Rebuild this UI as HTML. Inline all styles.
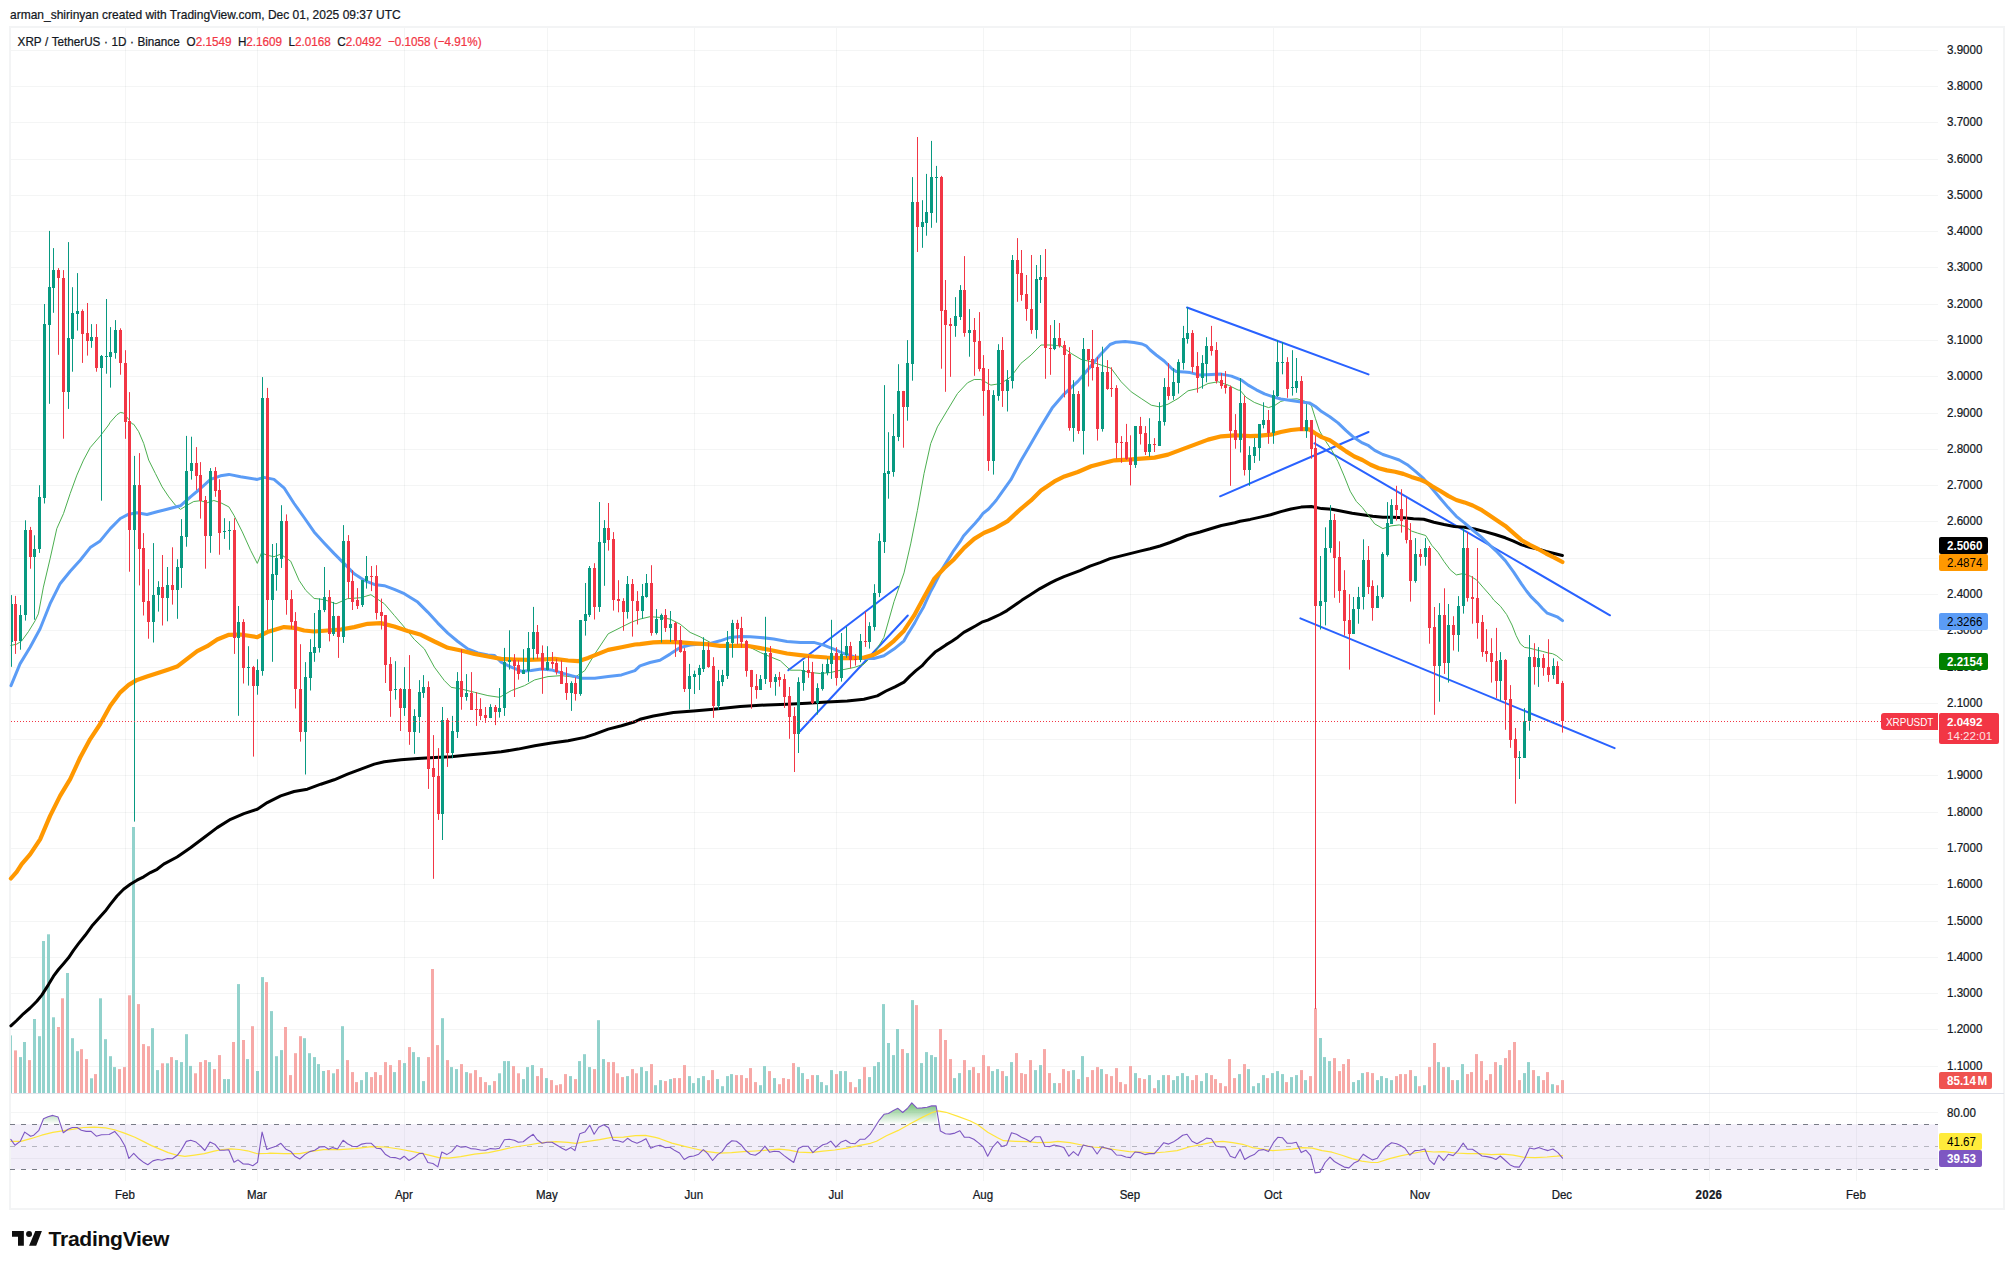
<!DOCTYPE html>
<html><head><meta charset="utf-8"><title>XRPUSDT chart</title>
<style>
html,body{margin:0;padding:0;background:#fff;}
body{width:2014px;height:1269px;position:relative;overflow:hidden;font-family:"Liberation Sans",sans-serif;color:#131722;}
#title,#legend,.pl,.tl{-webkit-text-stroke:0.22px currentColor;transform-origin:0 77%;}
#title{transform:scaleY(1.08);}#legend{transform:scaleY(1.1);}.pl,.tl{transform:scaleY(1.06);}.tag>span.t{display:inline-block;transform:scaleY(1.06);transform-origin:0 77%;}
#frame{position:absolute;left:9px;top:26px;width:1992px;height:1180px;border:2px solid #f3f4f5;box-sizing:content-box;}
#title{position:absolute;left:10px;top:7px;font-size:12.0px;line-height:16px;white-space:nowrap;color:#131722;}
#legend{position:absolute;left:17.6px;top:33.8px;font-size:11.7px;line-height:16px;white-space:pre;color:#131722;}
#legend .r{color:#f23645;}
.pl{position:absolute;left:1947px;width:60px;font-size:11.6px;line-height:16px;height:16px;color:#131722;white-space:nowrap;}
.tl{position:absolute;top:1186.8px;width:60px;text-align:center;font-size:11.5px;line-height:16px;color:#131722;}
.tl.b{font-weight:bold;letter-spacing:0.3px;}
.tag{position:absolute;font-size:11.6px;box-sizing:border-box;padding-left:8px;border-radius:2px;white-space:nowrap;overflow:hidden;}
#logotext{position:absolute;left:48.6px;top:1225.1px;font-size:21.1px;line-height:28px;font-weight:bold;color:#0f0f0f;letter-spacing:-0.3px;white-space:nowrap;}
</style></head><body>
<div id="title">arman_shirinyan created with TradingView.com, Dec 01, 2025 09:37 UTC</div>
<div id="frame"></div>
<svg width="2014" height="1269" viewBox="0 0 2014 1269" style="position:absolute;left:0;top:0" shape-rendering="auto"><defs><linearGradient id="ob" x1="0" y1="0" x2="0" y2="1" gradientUnits="userSpaceOnUse"><stop offset="0" stop-color="#4caf50"/><stop offset="0" stop-color="#4caf50" stop-opacity="1"/></linearGradient><linearGradient id="obg" gradientUnits="userSpaceOnUse" x1="0" y1="1100" x2="0" y2="1124.3"><stop offset="0" stop-color="#4caf50" stop-opacity="0.9"/><stop offset="1" stop-color="#4caf50" stop-opacity="0"/></linearGradient></defs><line x1="11" y1="50.5" x2="1938" y2="50.5" stroke="#2e4848" stroke-opacity="0.055" stroke-width="1"/>
<line x1="11" y1="86.5" x2="1938" y2="86.5" stroke="#2e4848" stroke-opacity="0.055" stroke-width="1"/>
<line x1="11" y1="122.5" x2="1938" y2="122.5" stroke="#2e4848" stroke-opacity="0.055" stroke-width="1"/>
<line x1="11" y1="159.5" x2="1938" y2="159.5" stroke="#2e4848" stroke-opacity="0.055" stroke-width="1"/>
<line x1="11" y1="195.5" x2="1938" y2="195.5" stroke="#2e4848" stroke-opacity="0.055" stroke-width="1"/>
<line x1="11" y1="231.5" x2="1938" y2="231.5" stroke="#2e4848" stroke-opacity="0.055" stroke-width="1"/>
<line x1="11" y1="267.5" x2="1938" y2="267.5" stroke="#2e4848" stroke-opacity="0.055" stroke-width="1"/>
<line x1="11" y1="304.5" x2="1938" y2="304.5" stroke="#2e4848" stroke-opacity="0.055" stroke-width="1"/>
<line x1="11" y1="340.5" x2="1938" y2="340.5" stroke="#2e4848" stroke-opacity="0.055" stroke-width="1"/>
<line x1="11" y1="376.5" x2="1938" y2="376.5" stroke="#2e4848" stroke-opacity="0.055" stroke-width="1"/>
<line x1="11" y1="413.5" x2="1938" y2="413.5" stroke="#2e4848" stroke-opacity="0.055" stroke-width="1"/>
<line x1="11" y1="449.5" x2="1938" y2="449.5" stroke="#2e4848" stroke-opacity="0.055" stroke-width="1"/>
<line x1="11" y1="485.5" x2="1938" y2="485.5" stroke="#2e4848" stroke-opacity="0.055" stroke-width="1"/>
<line x1="11" y1="521.5" x2="1938" y2="521.5" stroke="#2e4848" stroke-opacity="0.055" stroke-width="1"/>
<line x1="11" y1="558.5" x2="1938" y2="558.5" stroke="#2e4848" stroke-opacity="0.055" stroke-width="1"/>
<line x1="11" y1="594.5" x2="1938" y2="594.5" stroke="#2e4848" stroke-opacity="0.055" stroke-width="1"/>
<line x1="11" y1="630.5" x2="1938" y2="630.5" stroke="#2e4848" stroke-opacity="0.055" stroke-width="1"/>
<line x1="11" y1="667.5" x2="1938" y2="667.5" stroke="#2e4848" stroke-opacity="0.055" stroke-width="1"/>
<line x1="11" y1="703.5" x2="1938" y2="703.5" stroke="#2e4848" stroke-opacity="0.055" stroke-width="1"/>
<line x1="11" y1="739.5" x2="1938" y2="739.5" stroke="#2e4848" stroke-opacity="0.055" stroke-width="1"/>
<line x1="11" y1="775.5" x2="1938" y2="775.5" stroke="#2e4848" stroke-opacity="0.055" stroke-width="1"/>
<line x1="11" y1="812.5" x2="1938" y2="812.5" stroke="#2e4848" stroke-opacity="0.055" stroke-width="1"/>
<line x1="11" y1="848.5" x2="1938" y2="848.5" stroke="#2e4848" stroke-opacity="0.055" stroke-width="1"/>
<line x1="11" y1="884.5" x2="1938" y2="884.5" stroke="#2e4848" stroke-opacity="0.055" stroke-width="1"/>
<line x1="11" y1="921.5" x2="1938" y2="921.5" stroke="#2e4848" stroke-opacity="0.055" stroke-width="1"/>
<line x1="11" y1="957.5" x2="1938" y2="957.5" stroke="#2e4848" stroke-opacity="0.055" stroke-width="1"/>
<line x1="11" y1="993.5" x2="1938" y2="993.5" stroke="#2e4848" stroke-opacity="0.055" stroke-width="1"/>
<line x1="11" y1="1029.5" x2="1938" y2="1029.5" stroke="#2e4848" stroke-opacity="0.055" stroke-width="1"/>
<line x1="11" y1="1066.5" x2="1938" y2="1066.5" stroke="#2e4848" stroke-opacity="0.055" stroke-width="1"/>
<line x1="125.5" y1="28" x2="125.5" y2="1181" stroke="#2e4848" stroke-opacity="0.055" stroke-width="1"/>
<line x1="257.5" y1="28" x2="257.5" y2="1181" stroke="#2e4848" stroke-opacity="0.055" stroke-width="1"/>
<line x1="404.5" y1="28" x2="404.5" y2="1181" stroke="#2e4848" stroke-opacity="0.055" stroke-width="1"/>
<line x1="547.5" y1="28" x2="547.5" y2="1181" stroke="#2e4848" stroke-opacity="0.055" stroke-width="1"/>
<line x1="694.5" y1="28" x2="694.5" y2="1181" stroke="#2e4848" stroke-opacity="0.055" stroke-width="1"/>
<line x1="836.5" y1="28" x2="836.5" y2="1181" stroke="#2e4848" stroke-opacity="0.055" stroke-width="1"/>
<line x1="983.5" y1="28" x2="983.5" y2="1181" stroke="#2e4848" stroke-opacity="0.055" stroke-width="1"/>
<line x1="1130.5" y1="28" x2="1130.5" y2="1181" stroke="#2e4848" stroke-opacity="0.055" stroke-width="1"/>
<line x1="1273.5" y1="28" x2="1273.5" y2="1181" stroke="#2e4848" stroke-opacity="0.055" stroke-width="1"/>
<line x1="1420.5" y1="28" x2="1420.5" y2="1181" stroke="#2e4848" stroke-opacity="0.055" stroke-width="1"/>
<line x1="1562.5" y1="28" x2="1562.5" y2="1181" stroke="#2e4848" stroke-opacity="0.055" stroke-width="1"/>
<line x1="1709.5" y1="28" x2="1709.5" y2="1181" stroke="#2e4848" stroke-opacity="0.055" stroke-width="1"/>
<line x1="1856.5" y1="28" x2="1856.5" y2="1181" stroke="#2e4848" stroke-opacity="0.055" stroke-width="1"/>
<line x1="11" y1="1112.5" x2="1938" y2="1112.5" stroke="#2e4848" stroke-opacity="0.055" stroke-width="1"/>
<line x1="11" y1="1158.5" x2="1938" y2="1158.5" stroke="#2e4848" stroke-opacity="0.055" stroke-width="1"/>
<rect x="11" y="1035.4" width="1" height="57.6" fill="#92d2cc"/>
<rect x="14" y="1050.4" width="3" height="42.6" fill="#f7a9a7"/>
<rect x="19" y="1057.1" width="3" height="35.9" fill="#92d2cc"/>
<rect x="23" y="1042.0" width="3" height="51.0" fill="#92d2cc"/>
<rect x="28" y="1060.1" width="3" height="32.9" fill="#f7a9a7"/>
<rect x="33" y="1019.0" width="3" height="74.0" fill="#92d2cc"/>
<rect x="38" y="1036.2" width="3" height="56.8" fill="#92d2cc"/>
<rect x="42" y="941.0" width="3" height="152.0" fill="#92d2cc"/>
<rect x="47" y="934.3" width="3" height="158.7" fill="#92d2cc"/>
<rect x="52" y="1017.3" width="3" height="75.7" fill="#92d2cc"/>
<rect x="57" y="1027.0" width="3" height="66.0" fill="#f7a9a7"/>
<rect x="61" y="998.3" width="3" height="94.7" fill="#f7a9a7"/>
<rect x="66" y="973.0" width="3" height="120.0" fill="#92d2cc"/>
<rect x="71" y="1038.2" width="3" height="54.8" fill="#92d2cc"/>
<rect x="76" y="1051.2" width="3" height="41.8" fill="#92d2cc"/>
<rect x="80" y="1049.2" width="3" height="43.8" fill="#f7a9a7"/>
<rect x="85" y="1059.1" width="3" height="33.9" fill="#f7a9a7"/>
<rect x="90" y="1078.3" width="3" height="14.7" fill="#92d2cc"/>
<rect x="94" y="1074.1" width="3" height="18.9" fill="#f7a9a7"/>
<rect x="99" y="998.3" width="3" height="94.7" fill="#92d2cc"/>
<rect x="104" y="1039.2" width="3" height="53.8" fill="#92d2cc"/>
<rect x="109" y="1056.2" width="3" height="36.8" fill="#92d2cc"/>
<rect x="113" y="1067.1" width="3" height="25.9" fill="#92d2cc"/>
<rect x="118" y="1069.1" width="3" height="23.9" fill="#f7a9a7"/>
<rect x="123" y="1067.1" width="3" height="25.9" fill="#f7a9a7"/>
<rect x="128" y="995.3" width="3" height="97.7" fill="#f7a9a7"/>
<rect x="132" y="827.0" width="3" height="266.0" fill="#92d2cc"/>
<rect x="137" y="1004.1" width="3" height="88.9" fill="#f7a9a7"/>
<rect x="142" y="1044.1" width="3" height="48.9" fill="#f7a9a7"/>
<rect x="147" y="1046.2" width="3" height="46.8" fill="#f7a9a7"/>
<rect x="151" y="1028.2" width="3" height="64.8" fill="#92d2cc"/>
<rect x="156" y="1070.1" width="3" height="22.9" fill="#92d2cc"/>
<rect x="161" y="1063.3" width="3" height="29.7" fill="#f7a9a7"/>
<rect x="166" y="1063.3" width="3" height="29.7" fill="#92d2cc"/>
<rect x="170" y="1057.1" width="3" height="35.9" fill="#f7a9a7"/>
<rect x="175" y="1060.1" width="3" height="32.9" fill="#92d2cc"/>
<rect x="180" y="1062.1" width="3" height="30.9" fill="#92d2cc"/>
<rect x="185" y="1034.2" width="3" height="58.8" fill="#92d2cc"/>
<rect x="189" y="1065.9" width="3" height="27.1" fill="#92d2cc"/>
<rect x="194" y="1073.3" width="3" height="19.7" fill="#f7a9a7"/>
<rect x="199" y="1062.1" width="3" height="30.9" fill="#f7a9a7"/>
<rect x="204" y="1060.1" width="3" height="32.9" fill="#f7a9a7"/>
<rect x="208" y="1062.1" width="3" height="30.9" fill="#92d2cc"/>
<rect x="213" y="1069.1" width="3" height="23.9" fill="#f7a9a7"/>
<rect x="218" y="1055.1" width="3" height="37.9" fill="#f7a9a7"/>
<rect x="223" y="1079.1" width="3" height="13.9" fill="#92d2cc"/>
<rect x="227" y="1079.1" width="3" height="13.9" fill="#92d2cc"/>
<rect x="232" y="1042.0" width="3" height="51.0" fill="#f7a9a7"/>
<rect x="237" y="984.1" width="3" height="108.9" fill="#92d2cc"/>
<rect x="242" y="1040.0" width="3" height="53.0" fill="#f7a9a7"/>
<rect x="246" y="1059.1" width="3" height="33.9" fill="#92d2cc"/>
<rect x="251" y="1026.2" width="3" height="66.8" fill="#f7a9a7"/>
<rect x="256" y="1071.0" width="3" height="22.0" fill="#92d2cc"/>
<rect x="261" y="977.1" width="3" height="115.9" fill="#92d2cc"/>
<rect x="265" y="982.1" width="3" height="110.9" fill="#f7a9a7"/>
<rect x="270" y="1011.1" width="3" height="81.9" fill="#92d2cc"/>
<rect x="275" y="1056.2" width="3" height="36.8" fill="#92d2cc"/>
<rect x="280" y="1050.1" width="3" height="42.9" fill="#92d2cc"/>
<rect x="284" y="1027.0" width="3" height="66.0" fill="#f7a9a7"/>
<rect x="289" y="1075.1" width="3" height="17.9" fill="#f7a9a7"/>
<rect x="294" y="1053.2" width="3" height="39.8" fill="#f7a9a7"/>
<rect x="299" y="1036.2" width="3" height="56.8" fill="#f7a9a7"/>
<rect x="303" y="1038.2" width="3" height="54.8" fill="#92d2cc"/>
<rect x="308" y="1053.2" width="3" height="39.8" fill="#92d2cc"/>
<rect x="313" y="1057.1" width="3" height="35.9" fill="#92d2cc"/>
<rect x="317" y="1064.1" width="3" height="28.9" fill="#92d2cc"/>
<rect x="322" y="1071.0" width="3" height="22.0" fill="#92d2cc"/>
<rect x="327" y="1070.1" width="3" height="22.9" fill="#f7a9a7"/>
<rect x="332" y="1073.3" width="3" height="19.7" fill="#92d2cc"/>
<rect x="336" y="1069.1" width="3" height="23.9" fill="#f7a9a7"/>
<rect x="341" y="1026.2" width="3" height="66.8" fill="#92d2cc"/>
<rect x="346" y="1060.1" width="3" height="32.9" fill="#f7a9a7"/>
<rect x="351" y="1072.1" width="3" height="20.9" fill="#f7a9a7"/>
<rect x="355" y="1082.1" width="3" height="10.9" fill="#f7a9a7"/>
<rect x="360" y="1080.1" width="3" height="12.9" fill="#92d2cc"/>
<rect x="365" y="1072.1" width="3" height="20.9" fill="#92d2cc"/>
<rect x="370" y="1077.1" width="3" height="15.9" fill="#f7a9a7"/>
<rect x="374" y="1072.1" width="3" height="20.9" fill="#f7a9a7"/>
<rect x="379" y="1075.1" width="3" height="17.9" fill="#f7a9a7"/>
<rect x="384" y="1062.1" width="3" height="30.9" fill="#f7a9a7"/>
<rect x="389" y="1065.1" width="3" height="27.9" fill="#f7a9a7"/>
<rect x="393" y="1072.1" width="3" height="20.9" fill="#92d2cc"/>
<rect x="398" y="1060.1" width="3" height="32.9" fill="#f7a9a7"/>
<rect x="403" y="1063.1" width="3" height="29.9" fill="#92d2cc"/>
<rect x="408" y="1047.1" width="3" height="45.9" fill="#f7a9a7"/>
<rect x="412" y="1052.1" width="3" height="40.9" fill="#92d2cc"/>
<rect x="417" y="1057.1" width="3" height="35.9" fill="#92d2cc"/>
<rect x="422" y="1081.1" width="3" height="11.9" fill="#92d2cc"/>
<rect x="427" y="1057.1" width="3" height="35.9" fill="#f7a9a7"/>
<rect x="431" y="969.0" width="3" height="124.0" fill="#f7a9a7"/>
<rect x="436" y="1045.1" width="3" height="47.9" fill="#f7a9a7"/>
<rect x="441" y="1018.2" width="3" height="74.8" fill="#92d2cc"/>
<rect x="446" y="1060.1" width="3" height="32.9" fill="#f7a9a7"/>
<rect x="450" y="1067.1" width="3" height="25.9" fill="#92d2cc"/>
<rect x="455" y="1069.1" width="3" height="23.9" fill="#92d2cc"/>
<rect x="460" y="1064.1" width="3" height="28.9" fill="#f7a9a7"/>
<rect x="465" y="1072.1" width="3" height="20.9" fill="#92d2cc"/>
<rect x="469" y="1073.3" width="3" height="19.7" fill="#f7a9a7"/>
<rect x="474" y="1070.1" width="3" height="22.9" fill="#f7a9a7"/>
<rect x="479" y="1077.1" width="3" height="15.9" fill="#f7a9a7"/>
<rect x="484" y="1082.1" width="3" height="10.9" fill="#f7a9a7"/>
<rect x="488" y="1085.2" width="3" height="7.8" fill="#92d2cc"/>
<rect x="493" y="1081.1" width="3" height="11.9" fill="#f7a9a7"/>
<rect x="498" y="1073.3" width="3" height="19.7" fill="#92d2cc"/>
<rect x="503" y="1061.1" width="3" height="31.9" fill="#92d2cc"/>
<rect x="507" y="1061.1" width="3" height="31.9" fill="#92d2cc"/>
<rect x="512" y="1066.1" width="3" height="26.9" fill="#f7a9a7"/>
<rect x="517" y="1073.3" width="3" height="19.7" fill="#f7a9a7"/>
<rect x="522" y="1079.1" width="3" height="13.9" fill="#92d2cc"/>
<rect x="526" y="1067.1" width="3" height="25.9" fill="#92d2cc"/>
<rect x="531" y="1065.1" width="3" height="27.9" fill="#92d2cc"/>
<rect x="536" y="1076.1" width="3" height="16.9" fill="#f7a9a7"/>
<rect x="540" y="1068.1" width="3" height="24.9" fill="#f7a9a7"/>
<rect x="545" y="1078.1" width="3" height="14.9" fill="#92d2cc"/>
<rect x="550" y="1080.1" width="3" height="12.9" fill="#f7a9a7"/>
<rect x="555" y="1085.2" width="3" height="7.8" fill="#f7a9a7"/>
<rect x="559" y="1084.2" width="3" height="8.8" fill="#f7a9a7"/>
<rect x="564" y="1074.1" width="3" height="18.9" fill="#f7a9a7"/>
<rect x="569" y="1076.1" width="3" height="16.9" fill="#92d2cc"/>
<rect x="574" y="1079.1" width="3" height="13.9" fill="#f7a9a7"/>
<rect x="578" y="1061.1" width="3" height="31.9" fill="#92d2cc"/>
<rect x="583" y="1054.2" width="3" height="38.8" fill="#92d2cc"/>
<rect x="588" y="1067.1" width="3" height="25.9" fill="#92d2cc"/>
<rect x="593" y="1069.1" width="3" height="23.9" fill="#f7a9a7"/>
<rect x="597" y="1020.2" width="3" height="72.8" fill="#92d2cc"/>
<rect x="602" y="1059.1" width="3" height="33.9" fill="#92d2cc"/>
<rect x="607" y="1062.1" width="3" height="30.9" fill="#f7a9a7"/>
<rect x="612" y="1062.1" width="3" height="30.9" fill="#f7a9a7"/>
<rect x="616" y="1073.3" width="3" height="19.7" fill="#f7a9a7"/>
<rect x="621" y="1077.1" width="3" height="15.9" fill="#f7a9a7"/>
<rect x="626" y="1076.1" width="3" height="16.9" fill="#92d2cc"/>
<rect x="631" y="1069.1" width="3" height="23.9" fill="#f7a9a7"/>
<rect x="635" y="1073.3" width="3" height="19.7" fill="#f7a9a7"/>
<rect x="640" y="1067.1" width="3" height="25.9" fill="#92d2cc"/>
<rect x="645" y="1071.1" width="3" height="21.9" fill="#92d2cc"/>
<rect x="650" y="1064.1" width="3" height="28.9" fill="#f7a9a7"/>
<rect x="654" y="1085.2" width="3" height="7.8" fill="#92d2cc"/>
<rect x="659" y="1080.1" width="3" height="12.9" fill="#92d2cc"/>
<rect x="664" y="1081.1" width="3" height="11.9" fill="#f7a9a7"/>
<rect x="669" y="1079.1" width="3" height="13.9" fill="#92d2cc"/>
<rect x="673" y="1078.1" width="3" height="14.9" fill="#f7a9a7"/>
<rect x="678" y="1078.1" width="3" height="14.9" fill="#f7a9a7"/>
<rect x="683" y="1065.1" width="3" height="27.9" fill="#f7a9a7"/>
<rect x="688" y="1076.1" width="3" height="16.9" fill="#92d2cc"/>
<rect x="692" y="1083.1" width="3" height="9.9" fill="#92d2cc"/>
<rect x="697" y="1078.1" width="3" height="14.9" fill="#92d2cc"/>
<rect x="702" y="1076.1" width="3" height="16.9" fill="#92d2cc"/>
<rect x="707" y="1080.1" width="3" height="12.9" fill="#f7a9a7"/>
<rect x="711" y="1070.1" width="3" height="22.9" fill="#f7a9a7"/>
<rect x="716" y="1079.1" width="3" height="13.9" fill="#92d2cc"/>
<rect x="721" y="1086.2" width="3" height="6.8" fill="#92d2cc"/>
<rect x="726" y="1076.1" width="3" height="16.9" fill="#92d2cc"/>
<rect x="730" y="1074.1" width="3" height="18.9" fill="#92d2cc"/>
<rect x="735" y="1075.1" width="3" height="17.9" fill="#f7a9a7"/>
<rect x="740" y="1075.1" width="3" height="17.9" fill="#f7a9a7"/>
<rect x="745" y="1078.1" width="3" height="14.9" fill="#f7a9a7"/>
<rect x="749" y="1068.1" width="3" height="24.9" fill="#f7a9a7"/>
<rect x="754" y="1082.1" width="3" height="10.9" fill="#f7a9a7"/>
<rect x="759" y="1085.2" width="3" height="7.8" fill="#92d2cc"/>
<rect x="763" y="1066.1" width="3" height="26.9" fill="#92d2cc"/>
<rect x="768" y="1071.1" width="3" height="21.9" fill="#f7a9a7"/>
<rect x="773" y="1078.1" width="3" height="14.9" fill="#92d2cc"/>
<rect x="778" y="1084.2" width="3" height="8.8" fill="#f7a9a7"/>
<rect x="782" y="1078.1" width="3" height="14.9" fill="#f7a9a7"/>
<rect x="787" y="1079.1" width="3" height="13.9" fill="#f7a9a7"/>
<rect x="792" y="1063.1" width="3" height="29.9" fill="#f7a9a7"/>
<rect x="797" y="1067.1" width="3" height="25.9" fill="#92d2cc"/>
<rect x="801" y="1073.1" width="3" height="19.9" fill="#92d2cc"/>
<rect x="806" y="1079.1" width="3" height="13.9" fill="#f7a9a7"/>
<rect x="811" y="1075.1" width="3" height="17.9" fill="#f7a9a7"/>
<rect x="816" y="1075.1" width="3" height="17.9" fill="#92d2cc"/>
<rect x="820" y="1082.1" width="3" height="10.9" fill="#92d2cc"/>
<rect x="825" y="1085.2" width="3" height="7.8" fill="#92d2cc"/>
<rect x="830" y="1070.1" width="3" height="22.9" fill="#92d2cc"/>
<rect x="835" y="1074.1" width="3" height="18.9" fill="#f7a9a7"/>
<rect x="839" y="1071.1" width="3" height="21.9" fill="#92d2cc"/>
<rect x="844" y="1071.1" width="3" height="21.9" fill="#92d2cc"/>
<rect x="849" y="1082.1" width="3" height="10.9" fill="#f7a9a7"/>
<rect x="854" y="1087.2" width="3" height="5.8" fill="#f7a9a7"/>
<rect x="858" y="1079.1" width="3" height="13.9" fill="#92d2cc"/>
<rect x="863" y="1067.1" width="3" height="25.9" fill="#f7a9a7"/>
<rect x="868" y="1077.1" width="3" height="15.9" fill="#92d2cc"/>
<rect x="873" y="1066.1" width="3" height="26.9" fill="#92d2cc"/>
<rect x="877" y="1062.1" width="3" height="30.9" fill="#92d2cc"/>
<rect x="882" y="1004.1" width="3" height="88.9" fill="#92d2cc"/>
<rect x="887" y="1043.0" width="3" height="50.0" fill="#92d2cc"/>
<rect x="892" y="1055.1" width="3" height="37.9" fill="#92d2cc"/>
<rect x="896" y="1029.0" width="3" height="64.0" fill="#92d2cc"/>
<rect x="901" y="1049.1" width="3" height="43.9" fill="#f7a9a7"/>
<rect x="906" y="1053.1" width="3" height="39.9" fill="#92d2cc"/>
<rect x="911" y="1000.1" width="3" height="92.9" fill="#92d2cc"/>
<rect x="915" y="1005.1" width="3" height="87.9" fill="#f7a9a7"/>
<rect x="920" y="1063.1" width="3" height="29.9" fill="#92d2cc"/>
<rect x="925" y="1052.1" width="3" height="40.9" fill="#92d2cc"/>
<rect x="930" y="1055.1" width="3" height="37.9" fill="#92d2cc"/>
<rect x="934" y="1057.1" width="3" height="35.9" fill="#92d2cc"/>
<rect x="939" y="1029.0" width="3" height="64.0" fill="#f7a9a7"/>
<rect x="944" y="1040.0" width="3" height="53.0" fill="#f7a9a7"/>
<rect x="949" y="1059.1" width="3" height="33.9" fill="#f7a9a7"/>
<rect x="953" y="1078.1" width="3" height="14.9" fill="#92d2cc"/>
<rect x="958" y="1073.1" width="3" height="19.9" fill="#92d2cc"/>
<rect x="963" y="1060.1" width="3" height="32.9" fill="#f7a9a7"/>
<rect x="968" y="1070.1" width="3" height="22.9" fill="#92d2cc"/>
<rect x="972" y="1067.1" width="3" height="25.9" fill="#f7a9a7"/>
<rect x="977" y="1073.1" width="3" height="19.9" fill="#f7a9a7"/>
<rect x="982" y="1055.1" width="3" height="37.9" fill="#f7a9a7"/>
<rect x="987" y="1066.1" width="3" height="26.9" fill="#f7a9a7"/>
<rect x="991" y="1071.1" width="3" height="21.9" fill="#92d2cc"/>
<rect x="996" y="1069.1" width="3" height="23.9" fill="#92d2cc"/>
<rect x="1001" y="1071.1" width="3" height="21.9" fill="#f7a9a7"/>
<rect x="1005" y="1076.1" width="3" height="16.9" fill="#92d2cc"/>
<rect x="1010" y="1062.1" width="3" height="30.9" fill="#92d2cc"/>
<rect x="1015" y="1053.1" width="3" height="39.9" fill="#f7a9a7"/>
<rect x="1020" y="1073.1" width="3" height="19.9" fill="#f7a9a7"/>
<rect x="1024" y="1074.1" width="3" height="18.9" fill="#f7a9a7"/>
<rect x="1029" y="1060.1" width="3" height="32.9" fill="#f7a9a7"/>
<rect x="1034" y="1070.1" width="3" height="22.9" fill="#92d2cc"/>
<rect x="1039" y="1065.1" width="3" height="27.9" fill="#92d2cc"/>
<rect x="1043" y="1049.1" width="3" height="43.9" fill="#f7a9a7"/>
<rect x="1048" y="1073.1" width="3" height="19.9" fill="#f7a9a7"/>
<rect x="1053" y="1083.1" width="3" height="9.9" fill="#92d2cc"/>
<rect x="1058" y="1083.1" width="3" height="9.9" fill="#f7a9a7"/>
<rect x="1062" y="1069.1" width="3" height="23.9" fill="#f7a9a7"/>
<rect x="1067" y="1071.1" width="3" height="21.9" fill="#f7a9a7"/>
<rect x="1072" y="1070.1" width="3" height="22.9" fill="#92d2cc"/>
<rect x="1077" y="1079.1" width="3" height="13.9" fill="#f7a9a7"/>
<rect x="1081" y="1056.1" width="3" height="36.9" fill="#92d2cc"/>
<rect x="1086" y="1077.1" width="3" height="15.9" fill="#f7a9a7"/>
<rect x="1091" y="1070.1" width="3" height="22.9" fill="#f7a9a7"/>
<rect x="1096" y="1067.1" width="3" height="25.9" fill="#f7a9a7"/>
<rect x="1100" y="1069.1" width="3" height="23.9" fill="#92d2cc"/>
<rect x="1105" y="1074.1" width="3" height="18.9" fill="#f7a9a7"/>
<rect x="1110" y="1076.1" width="3" height="16.9" fill="#f7a9a7"/>
<rect x="1115" y="1068.1" width="3" height="24.9" fill="#f7a9a7"/>
<rect x="1119" y="1082.1" width="3" height="10.9" fill="#f7a9a7"/>
<rect x="1124" y="1084.2" width="3" height="8.8" fill="#f7a9a7"/>
<rect x="1129" y="1066.1" width="3" height="26.9" fill="#f7a9a7"/>
<rect x="1134" y="1073.1" width="3" height="19.9" fill="#92d2cc"/>
<rect x="1138" y="1078.1" width="3" height="14.9" fill="#f7a9a7"/>
<rect x="1143" y="1079.1" width="3" height="13.9" fill="#f7a9a7"/>
<rect x="1148" y="1075.1" width="3" height="17.9" fill="#92d2cc"/>
<rect x="1153" y="1088.2" width="3" height="4.8" fill="#f7a9a7"/>
<rect x="1157" y="1080.1" width="3" height="12.9" fill="#92d2cc"/>
<rect x="1162" y="1075.1" width="3" height="17.9" fill="#92d2cc"/>
<rect x="1167" y="1075.1" width="3" height="17.9" fill="#f7a9a7"/>
<rect x="1172" y="1080.1" width="3" height="12.9" fill="#92d2cc"/>
<rect x="1176" y="1076.1" width="3" height="16.9" fill="#92d2cc"/>
<rect x="1181" y="1073.1" width="3" height="19.9" fill="#92d2cc"/>
<rect x="1186" y="1076.1" width="3" height="16.9" fill="#92d2cc"/>
<rect x="1191" y="1080.1" width="3" height="12.9" fill="#f7a9a7"/>
<rect x="1195" y="1075.1" width="3" height="17.9" fill="#f7a9a7"/>
<rect x="1200" y="1081.1" width="3" height="11.9" fill="#92d2cc"/>
<rect x="1205" y="1073.1" width="3" height="19.9" fill="#92d2cc"/>
<rect x="1210" y="1075.1" width="3" height="17.9" fill="#f7a9a7"/>
<rect x="1214" y="1079.1" width="3" height="13.9" fill="#f7a9a7"/>
<rect x="1219" y="1083.1" width="3" height="9.9" fill="#f7a9a7"/>
<rect x="1224" y="1086.2" width="3" height="6.8" fill="#f7a9a7"/>
<rect x="1228" y="1059.1" width="3" height="33.9" fill="#f7a9a7"/>
<rect x="1233" y="1078.1" width="3" height="14.9" fill="#f7a9a7"/>
<rect x="1238" y="1074.1" width="3" height="18.9" fill="#92d2cc"/>
<rect x="1243" y="1064.1" width="3" height="28.9" fill="#f7a9a7"/>
<rect x="1247" y="1069.1" width="3" height="23.9" fill="#92d2cc"/>
<rect x="1252" y="1086.2" width="3" height="6.8" fill="#92d2cc"/>
<rect x="1257" y="1083.1" width="3" height="9.9" fill="#92d2cc"/>
<rect x="1262" y="1075.1" width="3" height="17.9" fill="#92d2cc"/>
<rect x="1266" y="1078.1" width="3" height="14.9" fill="#f7a9a7"/>
<rect x="1271" y="1073.1" width="3" height="19.9" fill="#92d2cc"/>
<rect x="1276" y="1071.1" width="3" height="21.9" fill="#92d2cc"/>
<rect x="1281" y="1074.1" width="3" height="18.9" fill="#92d2cc"/>
<rect x="1285" y="1082.1" width="3" height="10.9" fill="#f7a9a7"/>
<rect x="1290" y="1077.1" width="3" height="15.9" fill="#92d2cc"/>
<rect x="1295" y="1075.1" width="3" height="17.9" fill="#92d2cc"/>
<rect x="1300" y="1070.1" width="3" height="22.9" fill="#f7a9a7"/>
<rect x="1304" y="1080.1" width="3" height="12.9" fill="#92d2cc"/>
<rect x="1309" y="1076.1" width="3" height="16.9" fill="#f7a9a7"/>
<rect x="1314" y="1008.3" width="3" height="84.7" fill="#f7a9a7"/>
<rect x="1319" y="1038.0" width="3" height="55.0" fill="#92d2cc"/>
<rect x="1323" y="1057.1" width="3" height="35.9" fill="#92d2cc"/>
<rect x="1328" y="1061.1" width="3" height="31.9" fill="#92d2cc"/>
<rect x="1333" y="1058.1" width="3" height="34.9" fill="#f7a9a7"/>
<rect x="1338" y="1071.1" width="3" height="21.9" fill="#f7a9a7"/>
<rect x="1342" y="1064.1" width="3" height="28.9" fill="#f7a9a7"/>
<rect x="1347" y="1059.1" width="3" height="33.9" fill="#f7a9a7"/>
<rect x="1352" y="1082.1" width="3" height="10.9" fill="#92d2cc"/>
<rect x="1357" y="1080.1" width="3" height="12.9" fill="#92d2cc"/>
<rect x="1361" y="1073.1" width="3" height="19.9" fill="#92d2cc"/>
<rect x="1366" y="1072.1" width="3" height="20.9" fill="#f7a9a7"/>
<rect x="1371" y="1073.1" width="3" height="19.9" fill="#f7a9a7"/>
<rect x="1376" y="1080.1" width="3" height="12.9" fill="#92d2cc"/>
<rect x="1380" y="1076.1" width="3" height="16.9" fill="#92d2cc"/>
<rect x="1385" y="1078.1" width="3" height="14.9" fill="#92d2cc"/>
<rect x="1390" y="1080.1" width="3" height="12.9" fill="#92d2cc"/>
<rect x="1395" y="1076.1" width="3" height="16.9" fill="#f7a9a7"/>
<rect x="1399" y="1074.1" width="3" height="18.9" fill="#f7a9a7"/>
<rect x="1404" y="1074.1" width="3" height="18.9" fill="#f7a9a7"/>
<rect x="1409" y="1070.1" width="3" height="22.9" fill="#f7a9a7"/>
<rect x="1414" y="1076.1" width="3" height="16.9" fill="#92d2cc"/>
<rect x="1418" y="1086.2" width="3" height="6.8" fill="#f7a9a7"/>
<rect x="1423" y="1085.2" width="3" height="7.8" fill="#92d2cc"/>
<rect x="1428" y="1067.1" width="3" height="25.9" fill="#f7a9a7"/>
<rect x="1433" y="1043.0" width="3" height="50.0" fill="#f7a9a7"/>
<rect x="1437" y="1062.1" width="3" height="30.9" fill="#92d2cc"/>
<rect x="1442" y="1067.1" width="3" height="25.9" fill="#f7a9a7"/>
<rect x="1447" y="1067.1" width="3" height="25.9" fill="#92d2cc"/>
<rect x="1451" y="1080.1" width="3" height="12.9" fill="#f7a9a7"/>
<rect x="1456" y="1080.1" width="3" height="12.9" fill="#92d2cc"/>
<rect x="1461" y="1064.1" width="3" height="28.9" fill="#92d2cc"/>
<rect x="1466" y="1074.1" width="3" height="18.9" fill="#f7a9a7"/>
<rect x="1470" y="1072.1" width="3" height="20.9" fill="#f7a9a7"/>
<rect x="1475" y="1054.1" width="3" height="38.9" fill="#f7a9a7"/>
<rect x="1480" y="1061.1" width="3" height="31.9" fill="#f7a9a7"/>
<rect x="1485" y="1080.1" width="3" height="12.9" fill="#f7a9a7"/>
<rect x="1489" y="1074.1" width="3" height="18.9" fill="#f7a9a7"/>
<rect x="1494" y="1062.1" width="3" height="30.9" fill="#f7a9a7"/>
<rect x="1499" y="1065.1" width="3" height="27.9" fill="#92d2cc"/>
<rect x="1504" y="1058.1" width="3" height="34.9" fill="#f7a9a7"/>
<rect x="1508" y="1050.1" width="3" height="42.9" fill="#f7a9a7"/>
<rect x="1513" y="1042.0" width="3" height="51.0" fill="#f7a9a7"/>
<rect x="1518" y="1080.1" width="3" height="12.9" fill="#f7a9a7"/>
<rect x="1523" y="1073.1" width="3" height="19.9" fill="#92d2cc"/>
<rect x="1527" y="1062.1" width="3" height="30.9" fill="#92d2cc"/>
<rect x="1532" y="1070.1" width="3" height="22.9" fill="#f7a9a7"/>
<rect x="1537" y="1076.1" width="3" height="16.9" fill="#92d2cc"/>
<rect x="1542" y="1080.1" width="3" height="12.9" fill="#f7a9a7"/>
<rect x="1546" y="1072.1" width="3" height="20.9" fill="#f7a9a7"/>
<rect x="1551" y="1084.2" width="3" height="8.8" fill="#92d2cc"/>
<rect x="1556" y="1085.2" width="3" height="7.8" fill="#f7a9a7"/>
<rect x="1561" y="1080.1" width="3" height="12.9" fill="#f7a9a7"/>
<line x1="1187.0" y1="307.5" x2="1368.5" y2="374.4" stroke="#2962ff" stroke-width="2" stroke-linecap="round"/>
<line x1="1220.1" y1="496.3" x2="1368.5" y2="432.0" stroke="#2962ff" stroke-width="2" stroke-linecap="round"/>
<line x1="1314.5" y1="443.4" x2="1610" y2="615.3" stroke="#2962ff" stroke-width="2" stroke-linecap="round"/>
<line x1="1300.4" y1="618.3" x2="1614.6" y2="748.1" stroke="#2962ff" stroke-width="2" stroke-linecap="round"/>
<line x1="788.3" y1="670.3" x2="898.1" y2="586.7" stroke="#2962ff" stroke-width="2" stroke-linecap="round"/>
<line x1="800" y1="731.3" x2="907.8" y2="615.5" stroke="#2962ff" stroke-width="2" stroke-linecap="round"/>
<path d="M10.9,1025.8 L16.7,1020.5 L23.4,1013.8 L30.1,1008.0 L36.8,1001.3 L41.8,995.1 L48.5,984.6 L53.5,976.2 L58.5,969.5 L63.5,963.7 L68.5,957.8 L73.5,950.3 L78.5,943.6 L85.2,935.3 L91.9,926.1 L98.6,918.6 L105.3,911.1 L110.3,904.4 L117.0,896.0 L123.6,889.3 L130.3,884.3 L137.0,880.2 L143.7,876.8 L150.4,872.6 L157.1,869.3 L163.7,864.1 L177.1,857.0 L190.5,847.7 L203.8,837.7 L217.2,827.6 L230.6,819.3 L243.9,813.6 L257.3,809.2 L267.3,802.6 L280.7,795.9 L294.1,791.5 L307.4,789.2 L320.8,784.2 L334.2,779.8 L347.5,774.2 L360.9,769.1 L374.3,764.1 L384.3,761.8 L401.0,759.8 L417.7,758.5 L434.4,757.5 L451.1,756.8 L467.8,755.1 L484.5,753.4 L501.2,751.8 L518.0,749.1 L534.7,745.8 L551.4,743.1 L568.1,740.7 L584.8,737.4 L594.8,734.1 L608.2,729.1 L621.5,725.7 L634.9,721.7 L640.0,719.3 L653.4,716.0 L673.4,712.6 L693.5,710.9 L713.5,709.3 L740.2,706.6 L767.0,704.9 L787.0,704.3 L807.1,703.3 L827.1,701.9 L847.2,700.9 L863.9,699.2 L877.3,695.9 L886.0,691.0 L895.0,686.9 L904.0,682.1 L909.9,676.1 L915.9,670.7 L921.9,665.9 L926.7,660.5 L930.9,656.3 L935.1,652.1 L939.9,649.1 L945.9,644.9 L951.9,641.3 L957.8,637.2 L963.8,632.4 L969.8,629.1 L975.8,625.8 L981.8,622.2 L987.8,620.1 L993.8,617.4 L1000.0,614.5 L1007.0,610.6 L1015.0,605.1 L1022.0,600.1 L1030.0,595.1 L1040.0,588.6 L1050.0,583.1 L1056.0,580.1 L1064.0,576.6 L1072.0,573.6 L1080.0,570.6 L1090.0,566.1 L1100.0,562.6 L1110.0,558.6 L1120.0,556.1 L1130.0,553.6 L1140.0,551.1 L1150.0,548.7 L1160.0,546.0 L1170.0,542.5 L1180.0,538.5 L1187.0,535.5 L1200.0,532.0 L1208.1,529.5 L1221.4,525.5 L1234.8,522.8 L1240.0,521.2 L1250.2,519.4 L1260.4,517.1 L1270.6,514.7 L1280.8,511.6 L1291.0,509.0 L1301.2,507.1 L1311.4,506.5 L1321.6,508.6 L1331.8,509.2 L1342.0,511.2 L1352.2,513.3 L1362.4,514.7 L1372.7,516.3 L1382.9,517.3 L1393.1,517.3 L1403.3,517.8 L1413.5,518.8 L1423.7,519.2 L1433.9,522.2 L1444.1,524.5 L1454.3,526.5 L1464.5,527.3 L1474.7,529.0 L1484.9,531.6 L1495.1,534.5 L1505.3,537.8 L1513.5,541.2 L1521.6,544.9 L1529.8,547.3 L1538.0,549.0 L1546.1,551.4 L1554.3,553.5 L1562.4,555.5" fill="none" stroke="#000000" stroke-width="3" stroke-linejoin="round" stroke-linecap="round" />
<path d="M10.9,645.4 L16.7,644.2 L21.7,640.9 L28.4,631.7 L35.1,620.8 L38.4,613.8 L43.4,587.1 L50.1,558.7 L56.8,528.6 L63.5,513.6 L70.2,493.5 L76.9,475.1 L83.5,460.1 L90.2,447.6 L100.3,435.9 L108.6,425.0 L110.3,422.2 L117.0,414.7 L120.3,412.5 L123.6,413.0 L127.0,417.2 L132.0,423.8 L133.7,424.2 L138.7,431.7 L143.7,443.4 L148.7,460.1 L155.4,473.5 L162.1,486.8 L168.8,496.9 L175.4,505.2 L180.5,509.4 L187.1,505.2 L193.8,501.5 L200.5,500.7 L207.2,502.7 L213.9,500.5 L220.6,502.7 L228.9,506.9 L233.9,515.2 L242.3,531.9 L250.6,550.3 L257.3,563.4 L261.5,552.8 L267.3,555.3 L274.0,556.7 L280.7,554.2 L290.7,561.2 L299.1,580.4 L305.8,590.4 L314.1,598.4 L324.1,599.6 L336.0,603.8 L347.5,598.7 L360.9,597.7 L370.9,594.7 L384.3,603.7 L394.3,615.4 L404.3,627.1 L414.4,639.5 L424.4,648.9 L434.4,667.2 L444.4,680.6 L451.1,687.3 L461.1,689.0 L474.5,692.3 L487.9,695.6 L499.6,697.3 L511.3,690.6 L524.6,685.6 L534.7,679.9 L548.0,676.6 L561.4,675.6 L574.8,677.3 L584.8,670.6 L594.8,653.9 L608.2,633.8 L621.5,627.1 L631.6,622.1 L640.0,619.1 L650.0,616.7 L660.0,617.4 L670.1,619.1 L680.1,624.1 L690.1,632.4 L700.1,636.8 L710.2,642.4 L720.2,647.5 L730.2,646.8 L740.2,644.1 L750.3,647.5 L760.3,652.5 L770.3,656.8 L780.3,660.8 L790.4,670.2 L800.4,670.2 L810.4,672.5 L820.4,673.5 L830.5,672.5 L840.5,670.2 L853.9,667.5 L863.9,664.2 L873.9,654.1 L883.9,637.4 L894.0,601.7 L904.0,572.9 L910.7,543.9 L917.4,510.4 L924.0,473.7 L930.7,443.6 L937.4,426.9 L947.4,410.2 L957.5,393.5 L967.5,382.8 L974.2,379.5 L980.8,379.5 L990.9,385.1 L1000.9,383.5 L1010.9,376.8 L1020.9,363.4 L1031.0,355.1 L1041.0,345.0 L1051.0,345.0 L1061.0,346.0 L1071.1,353.4 L1081.1,359.4 L1091.1,361.7 L1101.1,365.1 L1111.2,368.4 L1121.2,381.8 L1131.2,391.8 L1141.2,398.5 L1151.3,405.2 L1159.6,406.9 L1168.0,404.2 L1178.0,398.5 L1188.0,390.8 L1198.1,388.5 L1208.1,383.5 L1218.1,381.8 L1228.1,385.1 L1238.2,390.1 L1240.0,390.2 L1246.1,397.3 L1254.3,402.4 L1262.4,405.5 L1268.6,407.6 L1274.7,405.5 L1280.8,401.4 L1289.0,399.4 L1297.1,398.8 L1305.3,401.4 L1311.4,405.5 L1315.5,418.8 L1319.6,431.0 L1325.7,441.2 L1331.8,450.4 L1338.0,461.6 L1344.1,475.9 L1350.2,491.2 L1356.3,501.4 L1362.4,507.6 L1368.6,515.7 L1374.7,523.9 L1382.9,528.6 L1391.0,525.9 L1399.2,524.9 L1405.3,526.5 L1411.4,531.0 L1417.6,533.1 L1425.7,535.5 L1431.8,545.3 L1438.0,552.4 L1444.1,561.6 L1450.2,569.8 L1456.3,574.9 L1463.5,573.5 L1470.6,576.3 L1476.7,580.0 L1482.9,587.1 L1491.0,596.3 L1493.7,600.0 L1500.5,606.3 L1506.7,614.6 L1512.0,625.0 L1516.1,635.5 L1520.3,643.8 L1524.5,647.4 L1529.7,648.2 L1535.9,649.8 L1542.2,651.3 L1548.4,653.0 L1552.6,653.7 L1556.8,655.8 L1562.5,660.5" fill="none" stroke="#4caf50" stroke-width="1" stroke-linejoin="round" stroke-linecap="round" />
<path d="M11.0,685.6 L20.0,663.9 L30.1,647.2 L40.1,628.8 L50.1,603.7 L60.1,583.7 L70.2,571.3 L80.2,560.3 L90.2,547.6 L100.2,540.9 L110.3,528.6 L120.3,518.5 L128.7,514.2 L137.0,512.8 L147.0,514.5 L157.1,511.8 L167.1,509.2 L180.4,505.8 L190.5,496.8 L200.5,488.5 L210.5,479.4 L220.5,475.8 L228.9,474.4 L240.6,476.8 L257.3,479.4 L264.0,477.4 L274.0,479.4 L284.0,487.8 L294.1,503.5 L304.1,517.5 L314.1,531.9 L324.1,542.9 L334.2,553.6 L344.2,563.6 L354.2,573.7 L364.2,580.3 L374.3,584.4 L384.3,585.7 L394.3,589.4 L404.3,593.7 L417.7,602.1 L427.7,612.1 L437.8,623.1 L447.8,633.1 L457.8,641.5 L467.8,648.9 L477.9,652.9 L487.9,654.9 L494.6,655.5 L501.2,662.2 L511.3,667.2 L521.3,671.2 L531.3,670.6 L541.3,668.9 L551.4,669.9 L561.4,672.9 L571.4,675.6 L581.4,678.3 L594.8,678.3 L608.2,676.6 L621.5,674.9 L634.9,670.6 L640.0,665.8 L650.0,662.5 L660.0,660.2 L670.1,654.1 L680.1,647.5 L690.1,645.1 L700.1,644.1 L710.2,643.4 L720.2,640.8 L730.2,637.4 L740.2,636.4 L750.3,636.8 L760.3,637.4 L773.7,639.1 L787.0,641.4 L800.4,642.4 L813.8,642.4 L823.8,645.1 L833.8,649.1 L843.8,653.5 L853.9,656.8 L863.9,658.5 L873.9,658.5 L883.9,655.8 L894.0,649.1 L904.0,640.8 L908.1,633.6 L909.9,630.7 L914.7,622.9 L919.5,613.9 L923.7,606.7 L927.2,598.9 L930.2,592.3 L933.8,585.7 L938.0,577.5 L942.2,569.0 L947.9,559.9 L953.9,550.3 L959.9,541.9 L963.5,535.9 L968.9,529.9 L974.9,523.4 L979.6,518.0 L983.2,513.2 L988.6,509.0 L993.4,503.6 L996.4,500.0 L1000.9,493.7 L1010.9,479.7 L1020.9,460.7 L1029.0,447.0 L1040.0,428.1 L1052.1,408.1 L1064.1,394.1 L1078.1,381.1 L1090.1,367.0 L1100.1,355.0 L1110.1,344.5 L1116.1,342.2 L1125.1,341.5 L1134.1,342.5 L1142.1,344.0 L1146.1,345.8 L1150.2,350.0 L1156.2,355.0 L1164.2,361.0 L1172.2,369.0 L1176.2,371.6 L1184.2,372.1 L1190.2,372.6 L1200.0,375.1 L1211.4,374.4 L1221.4,374.1 L1231.5,376.1 L1241.5,380.1 L1248.2,385.1 L1256.3,389.8 L1264.5,393.9 L1272.7,396.7 L1280.8,399.0 L1291.0,400.4 L1301.2,402.0 L1309.4,402.9 L1315.5,406.5 L1321.6,411.6 L1329.8,416.7 L1338.0,422.9 L1346.1,430.6 L1354.3,437.8 L1362.4,442.9 L1368.6,445.7 L1374.7,450.4 L1382.9,454.5 L1391.0,457.1 L1399.2,460.0 L1407.3,464.7 L1415.5,471.4 L1423.7,478.6 L1431.8,488.2 L1440.0,498.0 L1448.2,507.6 L1456.3,516.3 L1464.5,522.9 L1472.7,530.0 L1480.8,536.7 L1489.0,544.3 L1497.1,552.0 L1505.3,560.6 L1513.5,571.8 L1521.6,584.1 L1526.5,591.0 L1531.5,597.2 L1537.3,602.8 L1542.5,608.5 L1547.3,613.2 L1552.6,615.1 L1557.8,617.2 L1562.5,620.6" fill="none" stroke="#5b9cf6" stroke-width="3" stroke-linejoin="round" stroke-linecap="round" />
<path d="M10.9,878.5 L16.7,871.8 L21.7,864.1 L30.1,854.4 L40.1,839.3 L50.1,815.9 L60.1,795.9 L70.2,779.2 L80.2,757.5 L90.2,739.1 L100.2,724.0 L110.3,705.7 L120.3,692.3 L128.7,684.9 L137.0,679.9 L147.0,676.6 L157.1,673.2 L167.1,669.9 L177.1,666.6 L187.1,658.9 L197.2,651.2 L207.2,646.2 L217.2,639.5 L228.9,634.8 L240.6,634.5 L257.3,637.2 L267.3,632.1 L284.0,627.1 L294.1,627.8 L304.1,630.5 L314.1,631.5 L327.5,630.5 L340.8,629.5 L354.2,627.1 L367.6,623.8 L380.9,623.1 L394.3,626.5 L407.7,631.1 L421.0,634.8 L434.4,641.5 L447.8,647.8 L461.1,650.5 L474.5,653.9 L487.9,656.5 L501.2,658.9 L514.6,659.5 L528.0,659.9 L541.3,659.5 L554.7,658.9 L568.1,660.5 L578.1,661.2 L588.1,657.9 L598.2,653.9 L608.2,649.9 L621.5,647.2 L634.9,644.5 L640.0,644.1 L653.4,642.4 L666.7,641.8 L680.1,642.4 L693.5,643.4 L706.8,644.1 L720.2,645.8 L733.6,645.8 L746.9,645.8 L760.3,648.1 L773.7,650.8 L787.0,653.5 L800.4,655.1 L813.8,656.5 L827.1,657.5 L840.5,658.1 L853.9,658.1 L863.9,657.5 L873.9,654.8 L883.9,649.1 L894.0,640.8 L904.0,630.7 L914.0,615.7 L924.0,597.3 L934.1,579.0 L944.1,568.3 L954.1,559.2 L964.1,547.9 L974.2,538.9 L984.2,532.8 L994.2,528.8 L1007.6,521.1 L1020.9,508.8 L1031.0,500.4 L1041.0,490.4 L1054.4,481.4 L1064.4,476.4 L1077.8,472.0 L1091.1,466.3 L1104.5,462.7 L1114.5,460.3 L1127.9,459.7 L1141.2,458.7 L1154.6,457.6 L1168.0,454.6 L1181.3,449.6 L1194.7,444.6 L1208.1,439.6 L1221.4,436.3 L1234.8,435.3 L1240.0,435.5 L1250.2,436.1 L1260.4,435.7 L1270.6,434.7 L1280.8,432.0 L1291.0,430.0 L1301.2,429.0 L1309.4,429.4 L1315.5,433.5 L1321.6,437.1 L1329.8,440.2 L1338.0,445.7 L1346.1,451.4 L1354.3,456.5 L1362.4,460.0 L1370.6,464.7 L1378.8,468.2 L1386.9,470.4 L1395.1,471.8 L1403.3,473.9 L1411.4,476.9 L1419.6,479.4 L1425.7,482.0 L1431.8,486.1 L1440.0,490.8 L1448.2,495.9 L1456.3,500.0 L1464.5,502.4 L1472.7,505.5 L1480.8,509.6 L1489.0,515.1 L1497.1,520.4 L1505.3,525.9 L1513.5,533.1 L1521.6,540.2 L1529.8,544.9 L1538.0,549.0 L1546.1,553.5 L1554.3,557.6 L1562.4,562.0" fill="none" stroke="#ff9800" stroke-width="4.2" stroke-linejoin="round" stroke-linecap="round" />
<rect x="11" y="595.1" width="1" height="71.7" fill="#089981"/>
<rect x="11" y="604" width="2" height="38" fill="#089981"/>
<rect x="15" y="595.9" width="1" height="58.0" fill="#f23645"/>
<rect x="14" y="604" width="3" height="37" fill="#f23645"/>
<rect x="20" y="605.1" width="1" height="44.6" fill="#089981"/>
<rect x="19" y="615" width="3" height="26" fill="#089981"/>
<rect x="25" y="520.3" width="1" height="100.3" fill="#089981"/>
<rect x="24" y="530" width="3" height="85" fill="#089981"/>
<rect x="30" y="526.9" width="1" height="41.8" fill="#f23645"/>
<rect x="29" y="530" width="3" height="27" fill="#f23645"/>
<rect x="34" y="535.3" width="1" height="84.4" fill="#089981"/>
<rect x="33" y="549" width="3" height="8" fill="#089981"/>
<rect x="39" y="485.2" width="1" height="67.7" fill="#089981"/>
<rect x="38" y="497" width="3" height="52" fill="#089981"/>
<rect x="44" y="304.0" width="1" height="199.5" fill="#089981"/>
<rect x="43" y="324" width="3" height="174" fill="#089981"/>
<rect x="49" y="230.9" width="1" height="172.9" fill="#089981"/>
<rect x="48" y="287" width="3" height="38" fill="#089981"/>
<rect x="53" y="248.1" width="1" height="64.7" fill="#089981"/>
<rect x="52" y="270" width="3" height="18" fill="#089981"/>
<rect x="58" y="268.1" width="1" height="86.7" fill="#f23645"/>
<rect x="57" y="270" width="3" height="8" fill="#f23645"/>
<rect x="63" y="270.1" width="1" height="168.6" fill="#f23645"/>
<rect x="62" y="278" width="3" height="114" fill="#f23645"/>
<rect x="68" y="242.1" width="1" height="166.8" fill="#089981"/>
<rect x="67" y="338" width="3" height="54" fill="#089981"/>
<rect x="72" y="287.2" width="1" height="84.5" fill="#089981"/>
<rect x="71" y="313" width="3" height="26" fill="#089981"/>
<rect x="77" y="273.1" width="1" height="57.5" fill="#089981"/>
<rect x="76" y="311" width="3" height="3" fill="#089981"/>
<rect x="82" y="309.4" width="1" height="53.5" fill="#f23645"/>
<rect x="81" y="311" width="3" height="23" fill="#f23645"/>
<rect x="87" y="303.0" width="1" height="52.6" fill="#f23645"/>
<rect x="86" y="333" width="3" height="8" fill="#f23645"/>
<rect x="91" y="324.1" width="1" height="23.7" fill="#089981"/>
<rect x="90" y="337" width="3" height="4" fill="#089981"/>
<rect x="96" y="324.1" width="1" height="47.6" fill="#f23645"/>
<rect x="95" y="337" width="3" height="31" fill="#f23645"/>
<rect x="101" y="355.0" width="1" height="145.7" fill="#089981"/>
<rect x="100" y="356" width="3" height="12" fill="#089981"/>
<rect x="106" y="299.0" width="1" height="74.7" fill="#089981"/>
<rect x="105" y="356" width="3" height="1" fill="#089981"/>
<rect x="110" y="327.1" width="1" height="60.5" fill="#089981"/>
<rect x="109" y="352" width="3" height="5" fill="#089981"/>
<rect x="115" y="320.1" width="1" height="38.6" fill="#089981"/>
<rect x="114" y="330" width="3" height="23" fill="#089981"/>
<rect x="120" y="328.3" width="1" height="46.4" fill="#f23645"/>
<rect x="119" y="330" width="3" height="33" fill="#f23645"/>
<rect x="125" y="350.2" width="1" height="88.6" fill="#f23645"/>
<rect x="124" y="363" width="3" height="59" fill="#f23645"/>
<rect x="129" y="392.1" width="1" height="179.6" fill="#f23645"/>
<rect x="128" y="421" width="3" height="109" fill="#f23645"/>
<rect x="134" y="455.9" width="1" height="365.7" fill="#089981"/>
<rect x="133" y="485" width="3" height="45" fill="#089981"/>
<rect x="139" y="453.1" width="1" height="132.3" fill="#f23645"/>
<rect x="138" y="485" width="3" height="64" fill="#f23645"/>
<rect x="143" y="533.1" width="1" height="82.4" fill="#f23645"/>
<rect x="142" y="548" width="3" height="54" fill="#f23645"/>
<rect x="148" y="569.2" width="1" height="69.5" fill="#f23645"/>
<rect x="147" y="601" width="3" height="21" fill="#f23645"/>
<rect x="153" y="543.1" width="1" height="99.4" fill="#089981"/>
<rect x="152" y="595" width="3" height="27" fill="#089981"/>
<rect x="158" y="581.2" width="1" height="30.4" fill="#089981"/>
<rect x="157" y="587" width="3" height="8" fill="#089981"/>
<rect x="162" y="555.0" width="1" height="70.5" fill="#f23645"/>
<rect x="161" y="587" width="3" height="11" fill="#f23645"/>
<rect x="167" y="567.0" width="1" height="54.3" fill="#089981"/>
<rect x="166" y="585" width="3" height="13" fill="#089981"/>
<rect x="172" y="547.3" width="1" height="57.3" fill="#f23645"/>
<rect x="171" y="585" width="3" height="5" fill="#f23645"/>
<rect x="177" y="559.2" width="1" height="59.6" fill="#089981"/>
<rect x="176" y="567" width="3" height="23" fill="#089981"/>
<rect x="181" y="519.1" width="1" height="68.8" fill="#089981"/>
<rect x="180" y="536" width="3" height="32" fill="#089981"/>
<rect x="186" y="435.9" width="1" height="110.8" fill="#089981"/>
<rect x="185" y="471" width="3" height="66" fill="#089981"/>
<rect x="191" y="436.7" width="1" height="42.9" fill="#089981"/>
<rect x="190" y="463" width="3" height="8" fill="#089981"/>
<rect x="196" y="447.1" width="1" height="42.8" fill="#f23645"/>
<rect x="195" y="463" width="3" height="13" fill="#f23645"/>
<rect x="200" y="462.1" width="1" height="56.5" fill="#f23645"/>
<rect x="199" y="475" width="3" height="26" fill="#f23645"/>
<rect x="205" y="496.0" width="1" height="72.7" fill="#f23645"/>
<rect x="204" y="500" width="3" height="36" fill="#f23645"/>
<rect x="210" y="468.1" width="1" height="84.7" fill="#089981"/>
<rect x="209" y="471" width="3" height="65" fill="#089981"/>
<rect x="215" y="467.1" width="1" height="29.7" fill="#f23645"/>
<rect x="214" y="471" width="3" height="20" fill="#f23645"/>
<rect x="219" y="479.3" width="1" height="75.4" fill="#f23645"/>
<rect x="218" y="490" width="3" height="43" fill="#f23645"/>
<rect x="224" y="518.2" width="1" height="20.7" fill="#089981"/>
<rect x="223" y="531" width="3" height="1" fill="#089981"/>
<rect x="229" y="521.1" width="1" height="28.7" fill="#089981"/>
<rect x="228" y="530" width="3" height="1" fill="#089981"/>
<rect x="234" y="518.2" width="1" height="135.7" fill="#f23645"/>
<rect x="233" y="530" width="3" height="108" fill="#f23645"/>
<rect x="238" y="606.0" width="1" height="109.8" fill="#089981"/>
<rect x="237" y="622" width="3" height="16" fill="#089981"/>
<rect x="243" y="619.2" width="1" height="64.3" fill="#f23645"/>
<rect x="242" y="622" width="3" height="46" fill="#f23645"/>
<rect x="248" y="646.2" width="1" height="39.4" fill="#089981"/>
<rect x="247" y="667" width="3" height="1" fill="#089981"/>
<rect x="253" y="665.9" width="1" height="90.7" fill="#f23645"/>
<rect x="252" y="667" width="3" height="19" fill="#f23645"/>
<rect x="257" y="659.3" width="1" height="35.4" fill="#089981"/>
<rect x="256" y="670" width="3" height="16" fill="#089981"/>
<rect x="262" y="377.1" width="1" height="298.6" fill="#089981"/>
<rect x="261" y="398" width="3" height="273" fill="#089981"/>
<rect x="267" y="387.9" width="1" height="242.1" fill="#f23645"/>
<rect x="266" y="398" width="3" height="202" fill="#f23645"/>
<rect x="272" y="544.0" width="1" height="117.8" fill="#089981"/>
<rect x="271" y="574" width="3" height="26" fill="#089981"/>
<rect x="276" y="543.1" width="1" height="47.6" fill="#089981"/>
<rect x="275" y="558" width="3" height="17" fill="#089981"/>
<rect x="281" y="505.2" width="1" height="62.7" fill="#089981"/>
<rect x="280" y="521" width="3" height="38" fill="#089981"/>
<rect x="286" y="514.4" width="1" height="100.3" fill="#f23645"/>
<rect x="285" y="521" width="3" height="79" fill="#f23645"/>
<rect x="291" y="590.1" width="1" height="38.8" fill="#f23645"/>
<rect x="290" y="599" width="3" height="23" fill="#f23645"/>
<rect x="295" y="612.1" width="1" height="96.4" fill="#f23645"/>
<rect x="294" y="621" width="3" height="68" fill="#f23645"/>
<rect x="300" y="644.2" width="1" height="97.4" fill="#f23645"/>
<rect x="299" y="689" width="3" height="43" fill="#f23645"/>
<rect x="305" y="662.1" width="1" height="112.4" fill="#089981"/>
<rect x="304" y="677" width="3" height="55" fill="#089981"/>
<rect x="310" y="639.2" width="1" height="51.3" fill="#089981"/>
<rect x="309" y="652" width="3" height="26" fill="#089981"/>
<rect x="314" y="613.0" width="1" height="48.8" fill="#089981"/>
<rect x="313" y="647" width="3" height="6" fill="#089981"/>
<rect x="319" y="598.4" width="1" height="54.1" fill="#089981"/>
<rect x="318" y="610" width="3" height="38" fill="#089981"/>
<rect x="324" y="567.0" width="1" height="45.1" fill="#089981"/>
<rect x="323" y="597" width="3" height="13" fill="#089981"/>
<rect x="329" y="590.1" width="1" height="51.3" fill="#f23645"/>
<rect x="328" y="597" width="3" height="37" fill="#f23645"/>
<rect x="333" y="601.9" width="1" height="34.0" fill="#089981"/>
<rect x="332" y="616" width="3" height="18" fill="#089981"/>
<rect x="338" y="615.8" width="1" height="42.1" fill="#f23645"/>
<rect x="337" y="616" width="3" height="21" fill="#f23645"/>
<rect x="343" y="525.1" width="1" height="117.8" fill="#089981"/>
<rect x="342" y="541" width="3" height="96" fill="#089981"/>
<rect x="348" y="535.1" width="1" height="63.5" fill="#f23645"/>
<rect x="347" y="541" width="3" height="41" fill="#f23645"/>
<rect x="352" y="570.2" width="1" height="39.8" fill="#f23645"/>
<rect x="351" y="581" width="3" height="21" fill="#f23645"/>
<rect x="357" y="588.1" width="1" height="20.9" fill="#f23645"/>
<rect x="356" y="600" width="3" height="6" fill="#f23645"/>
<rect x="362" y="579.9" width="1" height="27.1" fill="#089981"/>
<rect x="361" y="580" width="3" height="25" fill="#089981"/>
<rect x="366" y="556.0" width="1" height="32.6" fill="#089981"/>
<rect x="365" y="576" width="3" height="5" fill="#089981"/>
<rect x="371" y="566.0" width="1" height="25.1" fill="#f23645"/>
<rect x="370" y="576" width="3" height="1" fill="#f23645"/>
<rect x="376" y="565.2" width="1" height="54.3" fill="#f23645"/>
<rect x="375" y="576" width="3" height="37" fill="#f23645"/>
<rect x="381" y="598.6" width="1" height="30.9" fill="#f23645"/>
<rect x="380" y="612" width="3" height="4" fill="#f23645"/>
<rect x="385" y="615.3" width="1" height="67.7" fill="#f23645"/>
<rect x="384" y="615" width="3" height="50" fill="#f23645"/>
<rect x="390" y="657.1" width="1" height="59.7" fill="#f23645"/>
<rect x="389" y="664" width="3" height="27" fill="#f23645"/>
<rect x="395" y="661.2" width="1" height="38.4" fill="#089981"/>
<rect x="394" y="689" width="3" height="1" fill="#089981"/>
<rect x="400" y="688.0" width="1" height="43.0" fill="#f23645"/>
<rect x="399" y="689" width="3" height="19" fill="#f23645"/>
<rect x="404" y="667.1" width="1" height="48.8" fill="#089981"/>
<rect x="403" y="689" width="3" height="19" fill="#089981"/>
<rect x="409" y="655.1" width="1" height="89.7" fill="#f23645"/>
<rect x="408" y="689" width="3" height="43" fill="#f23645"/>
<rect x="414" y="709.2" width="1" height="44.6" fill="#089981"/>
<rect x="413" y="716" width="3" height="16" fill="#089981"/>
<rect x="419" y="680.1" width="1" height="52.8" fill="#089981"/>
<rect x="418" y="692" width="3" height="25" fill="#089981"/>
<rect x="423" y="675.1" width="1" height="22.8" fill="#089981"/>
<rect x="422" y="687" width="3" height="6" fill="#089981"/>
<rect x="428" y="681.3" width="1" height="107.6" fill="#f23645"/>
<rect x="427" y="687" width="3" height="82" fill="#f23645"/>
<rect x="433" y="735.1" width="1" height="143.7" fill="#f23645"/>
<rect x="432" y="768" width="3" height="9" fill="#f23645"/>
<rect x="438" y="748.1" width="1" height="71.8" fill="#f23645"/>
<rect x="437" y="776" width="3" height="38" fill="#f23645"/>
<rect x="442" y="707.0" width="1" height="133.0" fill="#089981"/>
<rect x="441" y="720" width="3" height="94" fill="#089981"/>
<rect x="447" y="718.1" width="1" height="48.8" fill="#f23645"/>
<rect x="446" y="720" width="3" height="33" fill="#f23645"/>
<rect x="452" y="715.9" width="1" height="42.3" fill="#089981"/>
<rect x="451" y="731" width="3" height="22" fill="#089981"/>
<rect x="457" y="672.1" width="1" height="65.9" fill="#089981"/>
<rect x="456" y="681" width="3" height="51" fill="#089981"/>
<rect x="461" y="649.2" width="1" height="60.5" fill="#f23645"/>
<rect x="460" y="681" width="3" height="16" fill="#f23645"/>
<rect x="466" y="674.1" width="1" height="26.6" fill="#089981"/>
<rect x="465" y="693" width="3" height="4" fill="#089981"/>
<rect x="471" y="672.1" width="1" height="37.6" fill="#f23645"/>
<rect x="470" y="693" width="3" height="17" fill="#f23645"/>
<rect x="476" y="692.1" width="1" height="33.8" fill="#f23645"/>
<rect x="475" y="709" width="3" height="1" fill="#f23645"/>
<rect x="480" y="698.2" width="1" height="21.9" fill="#f23645"/>
<rect x="479" y="709" width="3" height="7" fill="#f23645"/>
<rect x="485" y="707.0" width="1" height="15.9" fill="#f23645"/>
<rect x="484" y="715" width="3" height="3" fill="#f23645"/>
<rect x="490" y="704.2" width="1" height="13.9" fill="#089981"/>
<rect x="489" y="707" width="3" height="11" fill="#089981"/>
<rect x="495" y="705.0" width="1" height="20.1" fill="#f23645"/>
<rect x="494" y="707" width="3" height="5" fill="#f23645"/>
<rect x="499" y="688.0" width="1" height="29.6" fill="#089981"/>
<rect x="498" y="708" width="3" height="4" fill="#089981"/>
<rect x="504" y="647.9" width="1" height="68.0" fill="#089981"/>
<rect x="503" y="662" width="3" height="46" fill="#089981"/>
<rect x="509" y="630.3" width="1" height="39.3" fill="#089981"/>
<rect x="508" y="660" width="3" height="2" fill="#089981"/>
<rect x="514" y="654.1" width="1" height="42.9" fill="#f23645"/>
<rect x="513" y="660" width="3" height="6" fill="#f23645"/>
<rect x="518" y="660.1" width="1" height="19.5" fill="#f23645"/>
<rect x="517" y="665" width="3" height="9" fill="#f23645"/>
<rect x="523" y="649.2" width="1" height="24.6" fill="#089981"/>
<rect x="522" y="670" width="3" height="4" fill="#089981"/>
<rect x="528" y="632.0" width="1" height="49.8" fill="#089981"/>
<rect x="527" y="648" width="3" height="23" fill="#089981"/>
<rect x="533" y="606.9" width="1" height="52.6" fill="#089981"/>
<rect x="532" y="632" width="3" height="17" fill="#089981"/>
<rect x="537" y="625.0" width="1" height="33.8" fill="#f23645"/>
<rect x="536" y="632" width="3" height="22" fill="#f23645"/>
<rect x="542" y="645.4" width="1" height="48.4" fill="#f23645"/>
<rect x="541" y="653" width="3" height="17" fill="#f23645"/>
<rect x="547" y="646.2" width="1" height="24.2" fill="#089981"/>
<rect x="546" y="662" width="3" height="8" fill="#089981"/>
<rect x="552" y="652.0" width="1" height="16.7" fill="#f23645"/>
<rect x="551" y="662" width="3" height="2" fill="#f23645"/>
<rect x="556" y="658.7" width="1" height="15.9" fill="#f23645"/>
<rect x="555" y="663" width="3" height="9" fill="#f23645"/>
<rect x="561" y="660.4" width="1" height="23.4" fill="#f23645"/>
<rect x="560" y="671" width="3" height="13" fill="#f23645"/>
<rect x="566" y="667.1" width="1" height="32.8" fill="#f23645"/>
<rect x="565" y="683" width="3" height="10" fill="#f23645"/>
<rect x="571" y="681.3" width="1" height="29.6" fill="#089981"/>
<rect x="570" y="683" width="3" height="10" fill="#089981"/>
<rect x="575" y="677.4" width="1" height="23.2" fill="#f23645"/>
<rect x="574" y="683" width="3" height="11" fill="#f23645"/>
<rect x="580" y="620.3" width="1" height="75.5" fill="#089981"/>
<rect x="579" y="620" width="3" height="74" fill="#089981"/>
<rect x="585" y="583.0" width="1" height="52.6" fill="#089981"/>
<rect x="584" y="614" width="3" height="7" fill="#089981"/>
<rect x="589" y="566.0" width="1" height="51.0" fill="#089981"/>
<rect x="588" y="568" width="3" height="47" fill="#089981"/>
<rect x="594" y="563.2" width="1" height="56.3" fill="#f23645"/>
<rect x="593" y="568" width="3" height="39" fill="#f23645"/>
<rect x="599" y="502.0" width="1" height="109.9" fill="#089981"/>
<rect x="598" y="542" width="3" height="65" fill="#089981"/>
<rect x="604" y="520.1" width="1" height="65.7" fill="#089981"/>
<rect x="603" y="528" width="3" height="15" fill="#089981"/>
<rect x="608" y="503.0" width="1" height="47.6" fill="#f23645"/>
<rect x="607" y="528" width="3" height="12" fill="#f23645"/>
<rect x="613" y="532.1" width="1" height="78.5" fill="#f23645"/>
<rect x="612" y="539" width="3" height="61" fill="#f23645"/>
<rect x="618" y="580.2" width="1" height="32.1" fill="#f23645"/>
<rect x="617" y="599" width="3" height="2" fill="#f23645"/>
<rect x="623" y="598.2" width="1" height="32.6" fill="#f23645"/>
<rect x="622" y="601" width="3" height="11" fill="#f23645"/>
<rect x="627" y="576.0" width="1" height="42.6" fill="#089981"/>
<rect x="626" y="584" width="3" height="28" fill="#089981"/>
<rect x="632" y="579.0" width="1" height="57.6" fill="#f23645"/>
<rect x="631" y="584" width="3" height="17" fill="#f23645"/>
<rect x="637" y="591.1" width="1" height="33.4" fill="#f23645"/>
<rect x="636" y="601" width="3" height="10" fill="#f23645"/>
<rect x="642" y="584.0" width="1" height="34.6" fill="#089981"/>
<rect x="641" y="596" width="3" height="15" fill="#089981"/>
<rect x="646" y="574.0" width="1" height="23.7" fill="#089981"/>
<rect x="645" y="583" width="3" height="14" fill="#089981"/>
<rect x="651" y="565.2" width="1" height="70.5" fill="#f23645"/>
<rect x="650" y="583" width="3" height="50" fill="#f23645"/>
<rect x="656" y="609.1" width="1" height="25.4" fill="#089981"/>
<rect x="655" y="619" width="3" height="14" fill="#089981"/>
<rect x="661" y="613.6" width="1" height="28.9" fill="#089981"/>
<rect x="660" y="615" width="3" height="5" fill="#089981"/>
<rect x="665" y="609.0" width="1" height="22.9" fill="#f23645"/>
<rect x="664" y="615" width="3" height="13" fill="#f23645"/>
<rect x="670" y="611.0" width="1" height="30.9" fill="#089981"/>
<rect x="669" y="624" width="3" height="4" fill="#089981"/>
<rect x="675" y="621.8" width="1" height="35.1" fill="#f23645"/>
<rect x="674" y="623" width="3" height="18" fill="#f23645"/>
<rect x="680" y="626.0" width="1" height="26.7" fill="#f23645"/>
<rect x="679" y="640" width="3" height="12" fill="#f23645"/>
<rect x="684" y="648.1" width="1" height="43.9" fill="#f23645"/>
<rect x="683" y="651" width="3" height="38" fill="#f23645"/>
<rect x="689" y="663.9" width="1" height="45.6" fill="#089981"/>
<rect x="688" y="676" width="3" height="13" fill="#089981"/>
<rect x="694" y="670.6" width="1" height="23.4" fill="#089981"/>
<rect x="693" y="674" width="3" height="3" fill="#089981"/>
<rect x="699" y="664.9" width="1" height="25.1" fill="#089981"/>
<rect x="698" y="668" width="3" height="7" fill="#089981"/>
<rect x="703" y="637.2" width="1" height="34.8" fill="#089981"/>
<rect x="702" y="650" width="3" height="19" fill="#089981"/>
<rect x="708" y="642.7" width="1" height="25.1" fill="#f23645"/>
<rect x="707" y="650" width="3" height="17" fill="#f23645"/>
<rect x="713" y="657.2" width="1" height="60.7" fill="#f23645"/>
<rect x="712" y="666" width="3" height="40" fill="#f23645"/>
<rect x="718" y="669.9" width="1" height="39.6" fill="#089981"/>
<rect x="717" y="681" width="3" height="25" fill="#089981"/>
<rect x="722" y="669.9" width="1" height="16.2" fill="#089981"/>
<rect x="721" y="675" width="3" height="7" fill="#089981"/>
<rect x="727" y="631.0" width="1" height="48.0" fill="#089981"/>
<rect x="726" y="642" width="3" height="34" fill="#089981"/>
<rect x="732" y="619.8" width="1" height="37.9" fill="#089981"/>
<rect x="731" y="623" width="3" height="20" fill="#089981"/>
<rect x="737" y="619.8" width="1" height="24.6" fill="#f23645"/>
<rect x="736" y="623" width="3" height="6" fill="#f23645"/>
<rect x="741" y="616.8" width="1" height="30.9" fill="#f23645"/>
<rect x="740" y="628" width="3" height="14" fill="#f23645"/>
<rect x="746" y="639.9" width="1" height="36.8" fill="#f23645"/>
<rect x="745" y="641" width="3" height="30" fill="#f23645"/>
<rect x="751" y="669.9" width="1" height="38.8" fill="#f23645"/>
<rect x="750" y="670" width="3" height="17" fill="#f23645"/>
<rect x="756" y="674.1" width="1" height="24.6" fill="#f23645"/>
<rect x="755" y="686" width="3" height="4" fill="#f23645"/>
<rect x="760" y="675.0" width="1" height="15.0" fill="#089981"/>
<rect x="759" y="679" width="3" height="11" fill="#089981"/>
<rect x="765" y="616.8" width="1" height="67.2" fill="#089981"/>
<rect x="764" y="653" width="3" height="26" fill="#089981"/>
<rect x="770" y="646.0" width="1" height="41.8" fill="#f23645"/>
<rect x="769" y="653" width="3" height="29" fill="#f23645"/>
<rect x="775" y="674.1" width="1" height="21.6" fill="#089981"/>
<rect x="774" y="677" width="3" height="5" fill="#089981"/>
<rect x="779" y="671.9" width="1" height="14.7" fill="#f23645"/>
<rect x="778" y="677" width="3" height="3" fill="#f23645"/>
<rect x="784" y="674.1" width="1" height="33.8" fill="#f23645"/>
<rect x="783" y="679" width="3" height="18" fill="#f23645"/>
<rect x="789" y="687.0" width="1" height="51.8" fill="#f23645"/>
<rect x="788" y="696" width="3" height="21" fill="#f23645"/>
<rect x="794" y="707.0" width="1" height="65.0" fill="#f23645"/>
<rect x="793" y="716" width="3" height="18" fill="#f23645"/>
<rect x="798" y="677.3" width="1" height="75.7" fill="#089981"/>
<rect x="797" y="682" width="3" height="52" fill="#089981"/>
<rect x="803" y="661.1" width="1" height="29.6" fill="#089981"/>
<rect x="802" y="670" width="3" height="13" fill="#089981"/>
<rect x="808" y="656.1" width="1" height="21.7" fill="#f23645"/>
<rect x="807" y="670" width="3" height="3" fill="#f23645"/>
<rect x="812" y="661.9" width="1" height="42.1" fill="#f23645"/>
<rect x="811" y="672" width="3" height="31" fill="#f23645"/>
<rect x="817" y="683.3" width="1" height="31.2" fill="#089981"/>
<rect x="816" y="688" width="3" height="15" fill="#089981"/>
<rect x="822" y="663.9" width="1" height="26.7" fill="#089981"/>
<rect x="821" y="672" width="3" height="17" fill="#089981"/>
<rect x="827" y="658.6" width="1" height="16.7" fill="#089981"/>
<rect x="826" y="664" width="3" height="9" fill="#089981"/>
<rect x="831" y="619.8" width="1" height="59.1" fill="#089981"/>
<rect x="830" y="653" width="3" height="11" fill="#089981"/>
<rect x="836" y="647.2" width="1" height="38.4" fill="#f23645"/>
<rect x="835" y="653" width="3" height="25" fill="#f23645"/>
<rect x="841" y="633.0" width="1" height="48.6" fill="#089981"/>
<rect x="840" y="654" width="3" height="24" fill="#089981"/>
<rect x="846" y="626.8" width="1" height="30.9" fill="#089981"/>
<rect x="845" y="646" width="3" height="9" fill="#089981"/>
<rect x="850" y="641.9" width="1" height="26.4" fill="#f23645"/>
<rect x="849" y="646" width="3" height="14" fill="#f23645"/>
<rect x="855" y="654.1" width="1" height="11.5" fill="#f23645"/>
<rect x="854" y="659" width="3" height="1" fill="#f23645"/>
<rect x="860" y="634.0" width="1" height="28.2" fill="#089981"/>
<rect x="859" y="641" width="3" height="19" fill="#089981"/>
<rect x="865" y="611.5" width="1" height="35.4" fill="#f23645"/>
<rect x="864" y="641" width="3" height="1" fill="#f23645"/>
<rect x="869" y="622.2" width="1" height="26.4" fill="#089981"/>
<rect x="868" y="626" width="3" height="16" fill="#089981"/>
<rect x="874" y="584.2" width="1" height="46.4" fill="#089981"/>
<rect x="873" y="593" width="3" height="34" fill="#089981"/>
<rect x="879" y="533.3" width="1" height="63.8" fill="#089981"/>
<rect x="878" y="541" width="3" height="52" fill="#089981"/>
<rect x="884" y="385.1" width="1" height="167.9" fill="#089981"/>
<rect x="883" y="473" width="3" height="69" fill="#089981"/>
<rect x="888" y="432.2" width="1" height="66.5" fill="#089981"/>
<rect x="887" y="471" width="3" height="3" fill="#089981"/>
<rect x="893" y="414.0" width="1" height="62.7" fill="#089981"/>
<rect x="892" y="436" width="3" height="36" fill="#089981"/>
<rect x="898" y="364.2" width="1" height="76.9" fill="#089981"/>
<rect x="897" y="391" width="3" height="46" fill="#089981"/>
<rect x="903" y="390.9" width="1" height="56.8" fill="#f23645"/>
<rect x="902" y="391" width="3" height="16" fill="#f23645"/>
<rect x="907" y="340.1" width="1" height="80.6" fill="#089981"/>
<rect x="906" y="363" width="3" height="44" fill="#089981"/>
<rect x="912" y="177.1" width="1" height="203.6" fill="#089981"/>
<rect x="911" y="202" width="3" height="162" fill="#089981"/>
<rect x="917" y="137.0" width="1" height="115.0" fill="#f23645"/>
<rect x="916" y="202" width="3" height="25" fill="#f23645"/>
<rect x="922" y="200.2" width="1" height="47.6" fill="#089981"/>
<rect x="921" y="222" width="3" height="5" fill="#089981"/>
<rect x="926" y="173.9" width="1" height="61.8" fill="#089981"/>
<rect x="925" y="212" width="3" height="11" fill="#089981"/>
<rect x="931" y="140.9" width="1" height="86.9" fill="#089981"/>
<rect x="930" y="177" width="3" height="36" fill="#089981"/>
<rect x="936" y="165.9" width="1" height="56.8" fill="#089981"/>
<rect x="935" y="177" width="3" height="1" fill="#089981"/>
<rect x="941" y="175.9" width="1" height="192.8" fill="#f23645"/>
<rect x="940" y="177" width="3" height="134" fill="#f23645"/>
<rect x="945" y="280.0" width="1" height="111.8" fill="#f23645"/>
<rect x="944" y="310" width="3" height="15" fill="#f23645"/>
<rect x="950" y="318.0" width="1" height="58.8" fill="#f23645"/>
<rect x="949" y="324" width="3" height="2" fill="#f23645"/>
<rect x="955" y="297.1" width="1" height="39.7" fill="#089981"/>
<rect x="954" y="316" width="3" height="10" fill="#089981"/>
<rect x="960" y="285.1" width="1" height="34.9" fill="#089981"/>
<rect x="959" y="290" width="3" height="27" fill="#089981"/>
<rect x="964" y="256.1" width="1" height="80.6" fill="#f23645"/>
<rect x="963" y="290" width="3" height="43" fill="#f23645"/>
<rect x="969" y="309.1" width="1" height="47.6" fill="#089981"/>
<rect x="968" y="330" width="3" height="3" fill="#089981"/>
<rect x="974" y="318.0" width="1" height="57.8" fill="#f23645"/>
<rect x="973" y="330" width="3" height="12" fill="#f23645"/>
<rect x="979" y="312.1" width="1" height="59.3" fill="#f23645"/>
<rect x="978" y="341" width="3" height="28" fill="#f23645"/>
<rect x="983" y="355.1" width="1" height="60.7" fill="#f23645"/>
<rect x="982" y="368" width="3" height="23" fill="#f23645"/>
<rect x="988" y="369.0" width="1" height="101.9" fill="#f23645"/>
<rect x="987" y="390" width="3" height="71" fill="#f23645"/>
<rect x="993" y="390.2" width="1" height="84.4" fill="#089981"/>
<rect x="992" y="395" width="3" height="66" fill="#089981"/>
<rect x="998" y="344.2" width="1" height="56.5" fill="#089981"/>
<rect x="997" y="350" width="3" height="46" fill="#089981"/>
<rect x="1002" y="337.1" width="1" height="69.8" fill="#f23645"/>
<rect x="1001" y="350" width="3" height="41" fill="#f23645"/>
<rect x="1007" y="370.1" width="1" height="41.4" fill="#089981"/>
<rect x="1006" y="380" width="3" height="11" fill="#089981"/>
<rect x="1012" y="255.0" width="1" height="133.5" fill="#089981"/>
<rect x="1011" y="260" width="3" height="121" fill="#089981"/>
<rect x="1017" y="238.1" width="1" height="63.7" fill="#f23645"/>
<rect x="1016" y="260" width="3" height="14" fill="#f23645"/>
<rect x="1021" y="250.0" width="1" height="50.8" fill="#f23645"/>
<rect x="1020" y="273" width="3" height="22" fill="#f23645"/>
<rect x="1026" y="275.0" width="1" height="45.8" fill="#f23645"/>
<rect x="1025" y="294" width="3" height="15" fill="#f23645"/>
<rect x="1031" y="255.0" width="1" height="78.8" fill="#f23645"/>
<rect x="1030" y="309" width="3" height="21" fill="#f23645"/>
<rect x="1036" y="265.0" width="1" height="73.6" fill="#089981"/>
<rect x="1035" y="279" width="3" height="51" fill="#089981"/>
<rect x="1040" y="255.0" width="1" height="48.0" fill="#089981"/>
<rect x="1039" y="277" width="3" height="3" fill="#089981"/>
<rect x="1045" y="249.0" width="1" height="129.8" fill="#f23645"/>
<rect x="1044" y="277" width="3" height="71" fill="#f23645"/>
<rect x="1050" y="325.1" width="1" height="49.7" fill="#f23645"/>
<rect x="1049" y="348" width="3" height="1" fill="#f23645"/>
<rect x="1054" y="320.0" width="1" height="30.1" fill="#089981"/>
<rect x="1053" y="338" width="3" height="11" fill="#089981"/>
<rect x="1059" y="323.0" width="1" height="24.6" fill="#f23645"/>
<rect x="1058" y="338" width="3" height="8" fill="#f23645"/>
<rect x="1064" y="340.9" width="1" height="56.5" fill="#f23645"/>
<rect x="1063" y="345" width="3" height="10" fill="#f23645"/>
<rect x="1069" y="347.2" width="1" height="83.5" fill="#f23645"/>
<rect x="1068" y="354" width="3" height="74" fill="#f23645"/>
<rect x="1073" y="380.2" width="1" height="61.5" fill="#089981"/>
<rect x="1072" y="394" width="3" height="34" fill="#089981"/>
<rect x="1078" y="391.0" width="1" height="42.9" fill="#f23645"/>
<rect x="1077" y="394" width="3" height="37" fill="#f23645"/>
<rect x="1083" y="338.0" width="1" height="116.5" fill="#089981"/>
<rect x="1082" y="349" width="3" height="82" fill="#089981"/>
<rect x="1088" y="349.2" width="1" height="37.3" fill="#f23645"/>
<rect x="1087" y="349" width="3" height="11" fill="#f23645"/>
<rect x="1092" y="330.0" width="1" height="50.5" fill="#f23645"/>
<rect x="1091" y="359" width="3" height="9" fill="#f23645"/>
<rect x="1097" y="357.1" width="1" height="83.5" fill="#f23645"/>
<rect x="1096" y="367" width="3" height="62" fill="#f23645"/>
<rect x="1102" y="346.7" width="1" height="84.9" fill="#089981"/>
<rect x="1101" y="372" width="3" height="57" fill="#089981"/>
<rect x="1107" y="360.1" width="1" height="29.7" fill="#f23645"/>
<rect x="1106" y="372" width="3" height="17" fill="#f23645"/>
<rect x="1111" y="367.3" width="1" height="29.6" fill="#f23645"/>
<rect x="1110" y="388" width="3" height="1" fill="#f23645"/>
<rect x="1116" y="385.2" width="1" height="73.5" fill="#f23645"/>
<rect x="1115" y="388" width="3" height="55" fill="#f23645"/>
<rect x="1121" y="436.1" width="1" height="26.7" fill="#f23645"/>
<rect x="1120" y="442" width="3" height="1" fill="#f23645"/>
<rect x="1126" y="423.9" width="1" height="36.1" fill="#f23645"/>
<rect x="1125" y="442" width="3" height="17" fill="#f23645"/>
<rect x="1130" y="435.3" width="1" height="50.1" fill="#f23645"/>
<rect x="1129" y="458" width="3" height="7" fill="#f23645"/>
<rect x="1135" y="426.1" width="1" height="41.8" fill="#089981"/>
<rect x="1134" y="426" width="3" height="39" fill="#089981"/>
<rect x="1140" y="416.9" width="1" height="27.6" fill="#f23645"/>
<rect x="1139" y="426" width="3" height="8" fill="#f23645"/>
<rect x="1145" y="426.1" width="1" height="28.9" fill="#f23645"/>
<rect x="1144" y="433" width="3" height="19" fill="#f23645"/>
<rect x="1149" y="418.2" width="1" height="38.4" fill="#089981"/>
<rect x="1148" y="444" width="3" height="8" fill="#089981"/>
<rect x="1154" y="438.1" width="1" height="13.9" fill="#f23645"/>
<rect x="1153" y="444" width="3" height="1" fill="#f23645"/>
<rect x="1159" y="402.2" width="1" height="43.4" fill="#089981"/>
<rect x="1158" y="421" width="3" height="25" fill="#089981"/>
<rect x="1164" y="378.1" width="1" height="47.5" fill="#089981"/>
<rect x="1163" y="387" width="3" height="35" fill="#089981"/>
<rect x="1168" y="363.1" width="1" height="36.8" fill="#f23645"/>
<rect x="1167" y="387" width="3" height="9" fill="#f23645"/>
<rect x="1173" y="368.1" width="1" height="31.7" fill="#089981"/>
<rect x="1172" y="382" width="3" height="14" fill="#089981"/>
<rect x="1178" y="359.3" width="1" height="34.3" fill="#089981"/>
<rect x="1177" y="362" width="3" height="21" fill="#089981"/>
<rect x="1183" y="325.9" width="1" height="43.7" fill="#089981"/>
<rect x="1182" y="338" width="3" height="25" fill="#089981"/>
<rect x="1187" y="307.5" width="1" height="36.1" fill="#089981"/>
<rect x="1186" y="333" width="3" height="6" fill="#089981"/>
<rect x="1192" y="330.1" width="1" height="42.6" fill="#f23645"/>
<rect x="1191" y="333" width="3" height="34" fill="#f23645"/>
<rect x="1197" y="352.1" width="1" height="40.6" fill="#f23645"/>
<rect x="1196" y="366" width="3" height="12" fill="#f23645"/>
<rect x="1202" y="355.1" width="1" height="33.6" fill="#089981"/>
<rect x="1201" y="363" width="3" height="15" fill="#089981"/>
<rect x="1206" y="337.2" width="1" height="45.1" fill="#089981"/>
<rect x="1205" y="346" width="3" height="18" fill="#089981"/>
<rect x="1211" y="325.9" width="1" height="29.7" fill="#f23645"/>
<rect x="1210" y="346" width="3" height="5" fill="#f23645"/>
<rect x="1216" y="342.1" width="1" height="41.4" fill="#f23645"/>
<rect x="1215" y="350" width="3" height="31" fill="#f23645"/>
<rect x="1221" y="373.1" width="1" height="15.6" fill="#f23645"/>
<rect x="1220" y="380" width="3" height="6" fill="#f23645"/>
<rect x="1225" y="371.0" width="1" height="22.6" fill="#f23645"/>
<rect x="1224" y="385" width="3" height="3" fill="#f23645"/>
<rect x="1230" y="385.5" width="1" height="100.3" fill="#f23645"/>
<rect x="1229" y="387" width="3" height="44" fill="#f23645"/>
<rect x="1235" y="414.1" width="1" height="34.6" fill="#f23645"/>
<rect x="1234" y="430" width="3" height="10" fill="#f23645"/>
<rect x="1240" y="378.1" width="1" height="74.4" fill="#089981"/>
<rect x="1239" y="403" width="3" height="37" fill="#089981"/>
<rect x="1244" y="396.1" width="1" height="79.4" fill="#f23645"/>
<rect x="1243" y="403" width="3" height="67" fill="#f23645"/>
<rect x="1249" y="446.2" width="1" height="39.6" fill="#089981"/>
<rect x="1248" y="455" width="3" height="15" fill="#089981"/>
<rect x="1254" y="437.9" width="1" height="25.1" fill="#089981"/>
<rect x="1253" y="447" width="3" height="9" fill="#089981"/>
<rect x="1259" y="424.2" width="1" height="36.6" fill="#089981"/>
<rect x="1258" y="424" width="3" height="24" fill="#089981"/>
<rect x="1263" y="402.3" width="1" height="26.1" fill="#089981"/>
<rect x="1262" y="420" width="3" height="5" fill="#089981"/>
<rect x="1268" y="410.0" width="1" height="33.8" fill="#f23645"/>
<rect x="1267" y="420" width="3" height="13" fill="#f23645"/>
<rect x="1273" y="390.3" width="1" height="53.5" fill="#089981"/>
<rect x="1272" y="395" width="3" height="38" fill="#089981"/>
<rect x="1277" y="340.1" width="1" height="56.8" fill="#089981"/>
<rect x="1276" y="362" width="3" height="34" fill="#089981"/>
<rect x="1282" y="342.1" width="1" height="32.2" fill="#089981"/>
<rect x="1281" y="362" width="3" height="1" fill="#089981"/>
<rect x="1287" y="357.2" width="1" height="40.6" fill="#f23645"/>
<rect x="1286" y="362" width="3" height="27" fill="#f23645"/>
<rect x="1292" y="350.2" width="1" height="45.4" fill="#089981"/>
<rect x="1291" y="387" width="3" height="1" fill="#089981"/>
<rect x="1296" y="358.0" width="1" height="34.8" fill="#089981"/>
<rect x="1295" y="381" width="3" height="7" fill="#089981"/>
<rect x="1301" y="376.0" width="1" height="54.6" fill="#f23645"/>
<rect x="1300" y="381" width="3" height="50" fill="#f23645"/>
<rect x="1306" y="404.1" width="1" height="33.8" fill="#089981"/>
<rect x="1305" y="420" width="3" height="11" fill="#089981"/>
<rect x="1311" y="420.3" width="1" height="38.4" fill="#f23645"/>
<rect x="1310" y="420" width="3" height="29" fill="#f23645"/>
<rect x="1315" y="435.4" width="1" height="573.6" fill="#f23645"/>
<rect x="1314" y="448" width="3" height="158" fill="#f23645"/>
<rect x="1320" y="556.0" width="1" height="73.5" fill="#089981"/>
<rect x="1319" y="601" width="3" height="5" fill="#089981"/>
<rect x="1325" y="527.3" width="1" height="98.1" fill="#089981"/>
<rect x="1324" y="548" width="3" height="54" fill="#089981"/>
<rect x="1330" y="505.1" width="1" height="47.6" fill="#089981"/>
<rect x="1329" y="520" width="3" height="28" fill="#089981"/>
<rect x="1334" y="513.9" width="1" height="83.9" fill="#f23645"/>
<rect x="1333" y="520" width="3" height="38" fill="#f23645"/>
<rect x="1339" y="541.3" width="1" height="61.5" fill="#f23645"/>
<rect x="1338" y="557" width="3" height="34" fill="#f23645"/>
<rect x="1344" y="570.2" width="1" height="65.5" fill="#f23645"/>
<rect x="1343" y="590" width="3" height="31" fill="#f23645"/>
<rect x="1349" y="594.1" width="1" height="75.5" fill="#f23645"/>
<rect x="1348" y="620" width="3" height="14" fill="#f23645"/>
<rect x="1353" y="597.0" width="1" height="36.8" fill="#089981"/>
<rect x="1352" y="609" width="3" height="25" fill="#089981"/>
<rect x="1358" y="586.9" width="1" height="36.8" fill="#089981"/>
<rect x="1357" y="597" width="3" height="12" fill="#089981"/>
<rect x="1363" y="539.3" width="1" height="70.2" fill="#089981"/>
<rect x="1362" y="560" width="3" height="37" fill="#089981"/>
<rect x="1368" y="546.0" width="1" height="48.0" fill="#f23645"/>
<rect x="1367" y="560" width="3" height="27" fill="#f23645"/>
<rect x="1372" y="580.3" width="1" height="40.4" fill="#f23645"/>
<rect x="1371" y="586" width="3" height="22" fill="#f23645"/>
<rect x="1377" y="585.3" width="1" height="22.6" fill="#089981"/>
<rect x="1376" y="596" width="3" height="12" fill="#089981"/>
<rect x="1382" y="552.2" width="1" height="46.4" fill="#089981"/>
<rect x="1381" y="554" width="3" height="43" fill="#089981"/>
<rect x="1387" y="502.1" width="1" height="54.5" fill="#089981"/>
<rect x="1386" y="523" width="3" height="32" fill="#089981"/>
<rect x="1391" y="499.2" width="1" height="24.6" fill="#089981"/>
<rect x="1390" y="505" width="3" height="19" fill="#089981"/>
<rect x="1396" y="485.8" width="1" height="34.8" fill="#f23645"/>
<rect x="1395" y="505" width="3" height="5" fill="#f23645"/>
<rect x="1401" y="489.2" width="1" height="43.4" fill="#f23645"/>
<rect x="1400" y="509" width="3" height="12" fill="#f23645"/>
<rect x="1406" y="497.5" width="1" height="45.9" fill="#f23645"/>
<rect x="1405" y="520" width="3" height="20" fill="#f23645"/>
<rect x="1410" y="523.1" width="1" height="78.5" fill="#f23645"/>
<rect x="1409" y="540" width="3" height="41" fill="#f23645"/>
<rect x="1415" y="538.1" width="1" height="44.6" fill="#089981"/>
<rect x="1414" y="554" width="3" height="27" fill="#089981"/>
<rect x="1420" y="549.0" width="1" height="16.7" fill="#f23645"/>
<rect x="1419" y="554" width="3" height="3" fill="#f23645"/>
<rect x="1425" y="538.1" width="1" height="27.6" fill="#089981"/>
<rect x="1424" y="548" width="3" height="9" fill="#089981"/>
<rect x="1429" y="546.0" width="1" height="97.7" fill="#f23645"/>
<rect x="1428" y="548" width="3" height="80" fill="#f23645"/>
<rect x="1434" y="607.0" width="1" height="107.8" fill="#f23645"/>
<rect x="1433" y="627" width="3" height="39" fill="#f23645"/>
<rect x="1439" y="603.1" width="1" height="98.6" fill="#089981"/>
<rect x="1438" y="615" width="3" height="51" fill="#089981"/>
<rect x="1444" y="588.3" width="1" height="85.6" fill="#f23645"/>
<rect x="1443" y="615" width="3" height="48" fill="#f23645"/>
<rect x="1448" y="604.0" width="1" height="78.6" fill="#089981"/>
<rect x="1447" y="625" width="3" height="38" fill="#089981"/>
<rect x="1453" y="616.2" width="1" height="34.3" fill="#f23645"/>
<rect x="1452" y="625" width="3" height="10" fill="#f23645"/>
<rect x="1458" y="596.1" width="1" height="55.6" fill="#089981"/>
<rect x="1457" y="606" width="3" height="29" fill="#089981"/>
<rect x="1463" y="528.1" width="1" height="85.5" fill="#089981"/>
<rect x="1462" y="548" width="3" height="58" fill="#089981"/>
<rect x="1467" y="532.3" width="1" height="69.3" fill="#f23645"/>
<rect x="1466" y="548" width="3" height="50" fill="#f23645"/>
<rect x="1472" y="576.1" width="1" height="47.6" fill="#f23645"/>
<rect x="1471" y="597" width="3" height="2" fill="#f23645"/>
<rect x="1477" y="548.0" width="1" height="90.7" fill="#f23645"/>
<rect x="1476" y="598" width="3" height="25" fill="#f23645"/>
<rect x="1482" y="615.0" width="1" height="41.8" fill="#f23645"/>
<rect x="1481" y="622" width="3" height="30" fill="#f23645"/>
<rect x="1486" y="629.2" width="1" height="32.6" fill="#f23645"/>
<rect x="1485" y="651" width="3" height="3" fill="#f23645"/>
<rect x="1491" y="638.2" width="1" height="44.4" fill="#f23645"/>
<rect x="1490" y="653" width="3" height="9" fill="#f23645"/>
<rect x="1496" y="627.9" width="1" height="70.2" fill="#f23645"/>
<rect x="1495" y="661" width="3" height="20" fill="#f23645"/>
<rect x="1500" y="652.1" width="1" height="48.5" fill="#089981"/>
<rect x="1499" y="660" width="3" height="21" fill="#089981"/>
<rect x="1505" y="659.1" width="1" height="70.7" fill="#f23645"/>
<rect x="1504" y="660" width="3" height="40" fill="#f23645"/>
<rect x="1510" y="685.1" width="1" height="62.7" fill="#f23645"/>
<rect x="1509" y="699" width="3" height="41" fill="#f23645"/>
<rect x="1515" y="728.0" width="1" height="75.7" fill="#f23645"/>
<rect x="1514" y="739" width="3" height="19" fill="#f23645"/>
<rect x="1519" y="751.1" width="1" height="27.9" fill="#089981"/>
<rect x="1518" y="757" width="3" height="1" fill="#089981"/>
<rect x="1524" y="708.1" width="1" height="49.6" fill="#089981"/>
<rect x="1523" y="721" width="3" height="37" fill="#089981"/>
<rect x="1529" y="635.1" width="1" height="95.6" fill="#089981"/>
<rect x="1528" y="657" width="3" height="64" fill="#089981"/>
<rect x="1534" y="643.2" width="1" height="41.4" fill="#f23645"/>
<rect x="1533" y="657" width="3" height="10" fill="#f23645"/>
<rect x="1538" y="647.1" width="1" height="39.8" fill="#089981"/>
<rect x="1537" y="658" width="3" height="9" fill="#089981"/>
<rect x="1543" y="654.1" width="1" height="21.7" fill="#f23645"/>
<rect x="1542" y="658" width="3" height="10" fill="#f23645"/>
<rect x="1548" y="639.2" width="1" height="42.6" fill="#f23645"/>
<rect x="1547" y="667" width="3" height="8" fill="#f23645"/>
<rect x="1553" y="658.3" width="1" height="20.6" fill="#089981"/>
<rect x="1552" y="666" width="3" height="9" fill="#089981"/>
<rect x="1557" y="661.3" width="1" height="22.6" fill="#f23645"/>
<rect x="1556" y="666" width="3" height="18" fill="#f23645"/>
<rect x="1562" y="680.9" width="1" height="51.7" fill="#f23645"/>
<rect x="1561" y="683" width="3" height="38" fill="#f23645"/>
<line x1="11" y1="721.5" x2="1881" y2="721.5" stroke="#f23645" stroke-width="1" stroke-dasharray="1 2"/>
<line x1="11" y1="1093.5" x2="2004" y2="1093.5" stroke="#e0e3eb" stroke-width="1"/>
<rect x="11" y="1124.3" width="1927" height="45.1" fill="#7e57c2" fill-opacity="0.1"/>
<path d="M41.5,1124.3 L43.5,1118.8 L48.0,1116.7 L52.8,1115.4 L58.1,1117.1 L59.1,1124.3 Z" fill="url(#obg)"/>
<path d="M877.5,1124.3 L879.5,1119.8 L884.0,1114.3 L888.4,1113.5 L893.4,1110.5 L897.9,1108.3 L902.7,1112.5 L907.3,1108.5 L911.8,1102.9 L917.2,1108.3 L922.2,1107.9 L927.1,1107.3 L931.7,1105.9 L936.1,1105.9 L937.1,1124.3 Z" fill="url(#obg)"/>
<line x1="10" y1="1124.5" x2="1938" y2="1124.5" stroke="#787b86" stroke-width="1" stroke-dasharray="5 6"/>
<line x1="10" y1="1146.5" x2="1938" y2="1146.5" stroke="#787b86" stroke-opacity="0.5" stroke-width="1" stroke-dasharray="5 6"/>
<line x1="10" y1="1169.5" x2="1938" y2="1169.5" stroke="#787b86" stroke-width="1" stroke-dasharray="5 6"/>
<path d="M10.8,1141.4 L20.9,1141.4 L30.6,1138.7 L41.7,1135.2 L52.8,1132.4 L64.0,1130.7 L75.1,1128.9 L83.4,1127.5 L94.5,1127.1 L105.7,1127.8 L115.4,1130.0 L125.1,1133.4 L134.9,1137.3 L143.2,1141.4 L151.5,1145.6 L159.9,1149.1 L168.2,1152.6 L176.6,1155.1 L184.9,1156.3 L194.6,1155.1 L204.4,1153.7 L214.1,1151.2 L222.4,1149.5 L230.8,1148.8 L239.1,1149.5 L247.5,1150.8 L257.2,1153.7 L266.9,1153.5 L270.0,1153.2 L283.9,1153.6 L299.8,1153.6 L309.7,1151.6 L323.6,1149.6 L339.5,1149.6 L355.4,1148.6 L371.3,1146.6 L385.2,1147.0 L399.1,1149.0 L413.0,1151.6 L426.9,1154.6 L438.8,1157.6 L448.7,1158.2 L460.7,1156.6 L474.6,1154.2 L488.5,1152.6 L500.4,1150.2 L514.3,1147.0 L528.2,1145.0 L542.1,1142.7 L556.0,1141.7 L567.9,1142.3 L575.9,1143.3 L587.8,1141.3 L599.7,1139.7 L611.6,1137.3 L623.5,1137.1 L635.4,1135.7 L645.4,1135.3 L655.3,1137.3 L660.0,1138.7 L671.9,1143.1 L683.8,1146.2 L695.7,1149.0 L707.7,1151.6 L719.6,1153.2 L731.5,1152.6 L743.4,1151.6 L755.3,1151.0 L767.2,1150.2 L779.2,1149.2 L789.1,1150.2 L799.0,1152.2 L810.9,1152.6 L822.9,1151.2 L834.8,1150.0 L846.7,1148.2 L858.6,1145.6 L870.5,1143.3 L876.5,1141.3 L886.4,1135.7 L898.3,1130.4 L910.2,1123.8 L922.2,1117.4 L932.1,1112.5 L938.1,1110.9 L946.0,1112.3 L957.9,1116.4 L969.8,1120.8 L977.8,1124.8 L987.7,1132.3 L997.6,1137.7 L1003.6,1140.7 L1015.5,1141.3 L1027.4,1141.7 L1037.4,1142.7 L1047.3,1142.3 L1050.0,1142.3 L1057.9,1141.3 L1069.9,1142.7 L1081.8,1145.0 L1093.7,1147.0 L1105.6,1148.2 L1117.5,1150.0 L1129.4,1151.6 L1141.4,1152.0 L1153.3,1153.0 L1165.2,1152.0 L1177.1,1150.6 L1189.0,1147.0 L1200.9,1144.7 L1212.9,1142.1 L1222.8,1141.3 L1232.7,1142.7 L1242.7,1144.3 L1252.6,1147.6 L1262.5,1149.0 L1272.4,1150.6 L1282.4,1150.0 L1292.3,1149.2 L1302.2,1147.6 L1312.2,1148.2 L1322.1,1150.6 L1332.0,1152.2 L1342.0,1155.2 L1351.9,1158.6 L1361.8,1161.1 L1371.7,1162.5 L1377.7,1162.5 L1389.6,1158.6 L1401.5,1155.6 L1409.9,1154.0 L1419.9,1152.0 L1424.8,1151.2 L1433.8,1152.0 L1443.7,1151.6 L1455.6,1153.0 L1467.5,1153.6 L1479.4,1153.6 L1491.4,1154.6 L1503.3,1154.2 L1513.2,1155.2 L1523.1,1157.2 L1535.1,1157.6 L1547.0,1157.0 L1556.9,1156.2 L1562.5,1155.6" fill="none" stroke="#ffe53b" stroke-width="1.2" stroke-linejoin="round" stroke-linecap="round" />
<path d="M10.8,1139.4 L15.0,1145.2 L20.2,1141.4 L24.7,1132.1 L30.6,1136.3 L33.8,1135.2 L38.9,1130.3 L43.5,1118.8 L48.0,1116.7 L52.8,1115.4 L58.1,1117.1 L63.3,1132.8 L68.1,1129.3 L72.3,1127.5 L77.2,1127.5 L81.3,1130.3 L86.2,1131.4 L91.1,1131.4 L96.3,1136.2 L101.5,1134.8 L109.1,1134.5 L114.7,1131.4 L120.3,1138.0 L125.1,1146.3 L128.9,1158.5 L133.7,1153.3 L139.0,1158.8 L143.9,1162.6 L147.8,1164.7 L152.9,1160.9 L157.8,1159.5 L162.0,1160.2 L167.5,1158.5 L172.4,1158.8 L177.3,1155.3 L181.4,1149.8 L186.3,1141.4 L190.7,1140.3 L196.0,1142.1 L200.2,1145.6 L204.8,1150.5 L209.9,1142.1 L215.2,1144.6 L219.7,1150.2 L223.8,1150.2 L228.7,1149.8 L234.0,1162.3 L238.0,1159.9 L243.3,1164.0 L248.2,1164.1 L252.8,1165.8 L257.5,1162.3 L262.1,1132.1 L266.9,1149.5 L270.0,1148.2 L276.0,1146.2 L280.9,1143.3 L285.9,1149.2 L290.9,1151.6 L294.8,1156.2 L299.8,1159.0 L304.8,1154.6 L309.7,1151.6 L314.7,1150.2 L319.7,1147.0 L324.6,1146.6 L328.6,1149.2 L332.6,1147.6 L337.5,1149.0 L343.1,1140.3 L347.5,1143.7 L352.4,1146.2 L357.4,1146.6 L361.8,1144.1 L366.3,1143.3 L371.3,1143.3 L376.3,1148.2 L380.8,1148.6 L385.2,1154.2 L390.2,1157.2 L395.1,1157.6 L400.1,1159.2 L404.1,1156.2 L409.0,1160.5 L414.0,1157.6 L419.0,1153.6 L422.9,1153.2 L427.9,1162.5 L432.9,1163.5 L437.8,1166.9 L441.8,1152.0 L446.8,1154.6 L451.7,1151.6 L456.7,1145.6 L461.1,1147.2 L465.6,1146.6 L470.6,1148.6 L475.6,1149.0 L480.5,1150.0 L485.5,1150.2 L490.5,1148.6 L495.4,1149.0 L499.4,1148.2 L504.4,1139.7 L509.3,1139.3 L514.3,1140.3 L518.3,1142.3 L523.2,1141.7 L528.2,1137.7 L533.2,1134.3 L537.1,1139.7 L542.1,1143.3 L547.1,1142.3 L552.0,1142.3 L557.0,1145.2 L562.0,1148.2 L565.9,1150.2 L570.9,1147.6 L574.9,1150.6 L579.8,1133.7 L584.8,1132.1 L589.8,1125.2 L594.1,1134.3 L598.7,1127.2 L603.7,1124.8 L608.6,1127.8 L613.2,1140.1 L618.0,1140.7 L622.9,1142.3 L627.5,1138.3 L631.9,1141.3 L637.0,1143.3 L641.4,1141.3 L646.0,1138.7 L650.7,1148.2 L655.3,1146.2 L660.0,1145.2 L665.0,1147.6 L669.9,1147.2 L674.9,1150.6 L679.5,1153.0 L684.2,1159.5 L689.4,1156.6 L693.8,1156.0 L698.7,1154.2 L703.3,1149.6 L707.7,1153.6 L712.6,1160.5 L717.6,1154.6 L722.2,1151.6 L726.9,1144.7 L731.9,1140.7 L736.5,1141.3 L741.0,1144.7 L745.4,1150.2 L750.4,1154.2 L755.3,1155.2 L759.9,1152.2 L764.9,1146.2 L769.6,1152.2 L774.2,1151.2 L779.2,1151.6 L784.1,1155.6 L788.7,1159.0 L793.7,1162.5 L798.4,1148.6 L803.0,1146.2 L808.0,1146.2 L812.9,1152.6 L817.9,1148.2 L822.9,1144.7 L826.8,1143.7 L830.8,1141.1 L835.8,1147.2 L840.7,1142.3 L845.7,1140.3 L850.3,1143.3 L855.2,1143.7 L860.0,1139.3 L865.0,1139.1 L869.9,1134.7 L874.5,1127.8 L879.5,1119.8 L884.0,1114.3 L888.4,1113.5 L893.4,1110.5 L897.9,1108.3 L902.7,1112.5 L907.3,1108.5 L911.8,1102.9 L917.2,1108.3 L922.2,1107.9 L927.1,1107.3 L931.7,1105.9 L936.1,1105.9 L940.4,1131.1 L945.4,1133.7 L950.0,1134.1 L954.9,1133.1 L959.9,1130.7 L964.3,1137.1 L969.2,1137.3 L973.8,1139.3 L978.8,1143.1 L983.3,1147.0 L987.7,1156.2 L992.7,1147.0 L997.6,1141.7 L1002.0,1146.6 L1006.6,1145.0 L1011.5,1132.7 L1016.5,1134.3 L1021.5,1137.3 L1026.0,1139.3 L1030.4,1141.7 L1035.4,1136.7 L1040.3,1136.7 L1044.9,1146.2 L1050.0,1146.6 L1054.0,1145.0 L1058.9,1146.0 L1063.9,1147.6 L1068.9,1156.2 L1073.4,1151.6 L1078.2,1155.6 L1083.2,1145.0 L1087.7,1146.2 L1092.3,1147.0 L1097.1,1154.0 L1102.0,1147.0 L1106.6,1148.2 L1111.6,1149.6 L1116.5,1155.0 L1121.1,1155.2 L1125.9,1157.0 L1130.4,1157.6 L1135.0,1152.0 L1139.8,1152.6 L1144.9,1154.6 L1149.3,1153.6 L1154.3,1153.6 L1158.8,1148.6 L1163.8,1142.7 L1168.6,1144.1 L1173.1,1142.1 L1178.1,1138.7 L1182.7,1135.3 L1187.0,1134.3 L1192.0,1141.3 L1197.0,1143.7 L1201.9,1141.1 L1206.5,1138.1 L1211.3,1138.7 L1216.2,1146.0 L1220.8,1147.0 L1225.2,1147.0 L1230.3,1156.2 L1235.1,1158.0 L1240.1,1149.2 L1244.6,1159.5 L1249.6,1156.6 L1254.2,1154.6 L1258.9,1150.2 L1263.5,1149.6 L1268.5,1151.6 L1273.4,1142.7 L1277.8,1137.3 L1282.4,1137.7 L1287.3,1143.3 L1291.9,1143.3 L1296.3,1142.3 L1301.2,1152.6 L1305.8,1150.2 L1310.6,1155.6 L1315.1,1172.9 L1320.1,1172.1 L1325.1,1162.5 L1330.0,1157.2 L1334.4,1161.5 L1339.6,1164.5 L1344.3,1167.1 L1348.9,1167.9 L1353.9,1163.1 L1358.4,1160.9 L1363.2,1154.2 L1367.8,1157.2 L1372.3,1159.9 L1377.3,1158.2 L1382.1,1151.2 L1386.6,1146.2 L1391.6,1142.7 L1396.6,1143.7 L1400.0,1145.2 L1405.0,1148.2 L1409.9,1155.2 L1414.9,1150.6 L1419.9,1150.2 L1424.8,1149.0 L1429.4,1160.1 L1434.2,1164.5 L1438.7,1155.2 L1443.7,1160.5 L1448.3,1154.2 L1453.2,1155.6 L1458.0,1150.6 L1463.2,1143.1 L1467.5,1149.2 L1472.5,1149.2 L1477.5,1152.6 L1482.0,1156.0 L1486.8,1156.6 L1491.4,1157.6 L1495.9,1159.5 L1500.3,1156.0 L1505.3,1160.5 L1510.2,1164.9 L1514.8,1166.9 L1519.2,1167.1 L1524.5,1159.0 L1529.5,1148.0 L1534.1,1149.0 L1538.6,1147.6 L1543.4,1149.2 L1548.0,1150.6 L1552.9,1149.0 L1557.9,1152.6 L1562.5,1158.2" fill="none" stroke="#7e57c2" stroke-width="1.1" stroke-linejoin="round" stroke-linecap="round" /></svg>
<div id="legend"><span style="word-spacing:0.35px">XRP / TetherUS · 1D · Binance </span> O<span class="r">2.1549</span>  H<span class="r">2.1609</span>  L<span class="r">2.0168</span>  C<span class="r">2.0492</span>  <span class="r">−0.1058 (−4.91%)</span></div>
<div class="pl" style="top:42.1px">3.9000</div><div class="pl" style="top:78.1px">3.8000</div><div class="pl" style="top:114.1px">3.7000</div><div class="pl" style="top:151.1px">3.6000</div><div class="pl" style="top:187.1px">3.5000</div><div class="pl" style="top:223.1px">3.4000</div><div class="pl" style="top:259.1px">3.3000</div><div class="pl" style="top:296.1px">3.2000</div><div class="pl" style="top:332.1px">3.1000</div><div class="pl" style="top:368.1px">3.0000</div><div class="pl" style="top:405.1px">2.9000</div><div class="pl" style="top:441.1px">2.8000</div><div class="pl" style="top:477.1px">2.7000</div><div class="pl" style="top:513.1px">2.6000</div><div class="pl" style="top:550.1px">2.5000</div><div class="pl" style="top:586.1px">2.4000</div><div class="pl" style="top:622.1px">2.3000</div><div class="pl" style="top:659.1px">2.2000</div><div class="pl" style="top:695.1px">2.1000</div><div class="pl" style="top:731.1px">2.0000</div><div class="pl" style="top:767.1px">1.9000</div><div class="pl" style="top:804.1px">1.8000</div><div class="pl" style="top:840.1px">1.7000</div><div class="pl" style="top:876.1px">1.6000</div><div class="pl" style="top:913.1px">1.5000</div><div class="pl" style="top:949.1px">1.4000</div><div class="pl" style="top:985.1px">1.3000</div><div class="pl" style="top:1021.1px">1.2000</div><div class="pl" style="top:1058.1px">1.1000</div><div class="pl" style="top:1104.5px">80.00</div><div class="tl" style="left:94.9px">Feb</div><div class="tl" style="left:226.9px">Mar</div><div class="tl" style="left:373.9px">Apr</div><div class="tl" style="left:516.9px">May</div><div class="tl" style="left:663.9px">Jun</div><div class="tl" style="left:805.9px">Jul</div><div class="tl" style="left:952.9px">Aug</div><div class="tl" style="left:1099.9px">Sep</div><div class="tl" style="left:1242.9px">Oct</div><div class="tl" style="left:1389.9px">Nov</div><div class="tl" style="left:1531.9px">Dec</div><div class="tl b" style="left:1678.9px">2026</div><div class="tl" style="left:1825.9px">Feb</div><div class="tag" style="left:1939px;top:537px;width:49px;height:17px;line-height:17px;background:#000000;color:#ffffff;font-weight:bold;"><span class="t">2.5060</span></div><div class="tag" style="left:1939px;top:554px;width:49px;height:17px;line-height:17px;background:#ff9800;color:#000000;"><span class="t">2.4874</span></div><div class="tag" style="left:1939px;top:613px;width:49px;height:17px;line-height:17px;background:#5b9cf6;color:#000000;"><span class="t">2.3266</span></div><div class="tag" style="left:1939px;top:653px;width:49px;height:17px;line-height:17px;background:#008000;color:#ffffff;font-weight:bold;"><span class="t">2.2154</span></div><div class="tag" style="left:1939px;top:1072px;width:53px;height:17px;line-height:17px;background:#ef5350;color:#ffffff;font-weight:bold;"><span class="t">85.14<span style="margin-left:1.6px">M</span></span></div><div class="tag" style="left:1939px;top:1133px;width:43px;height:17px;line-height:17px;background:#ffeb3b;color:#000000;"><span class="t">41.67</span></div><div class="tag" style="left:1939px;top:1150px;width:43px;height:17px;line-height:17px;background:#7e57c2;color:#ffffff;font-weight:bold;"><span class="t">39.53</span></div><div class="tag" style="left:1939px;top:713px;width:60px;height:31px;background:#f23645;color:#fff;line-height:14px;padding-top:1.5px;box-sizing:border-box"><span style="font-weight:bold">2.0492</span><br><span style="opacity:.85">14:22:01</span></div><div class="tag" style="left:1881px;top:713px;width:57px;height:17px;line-height:17px;background:#f23645;color:#fff;padding-left:4.5px;border-radius:3px 0 0 3px"><span style="display:inline-block;transform:scaleX(0.855);transform-origin:0 50%">XRPUSDT</span></div>
<svg id="logo" width="60" height="30" viewBox="0 1220 60 30" style="position:absolute;left:0;top:1220px"><path d="M12,1231.1 H23.85 V1245.8 H18.0 V1236.7 H12 Z M35.3,1231.1 H41.9 L36.2,1245.8 H29.06 Z" fill="#0f0f0f"/><circle cx="29.06" cy="1234.05" r="2.98" fill="#0f0f0f"/></svg>
<div id="logotext">TradingView</div>
</body></html>
